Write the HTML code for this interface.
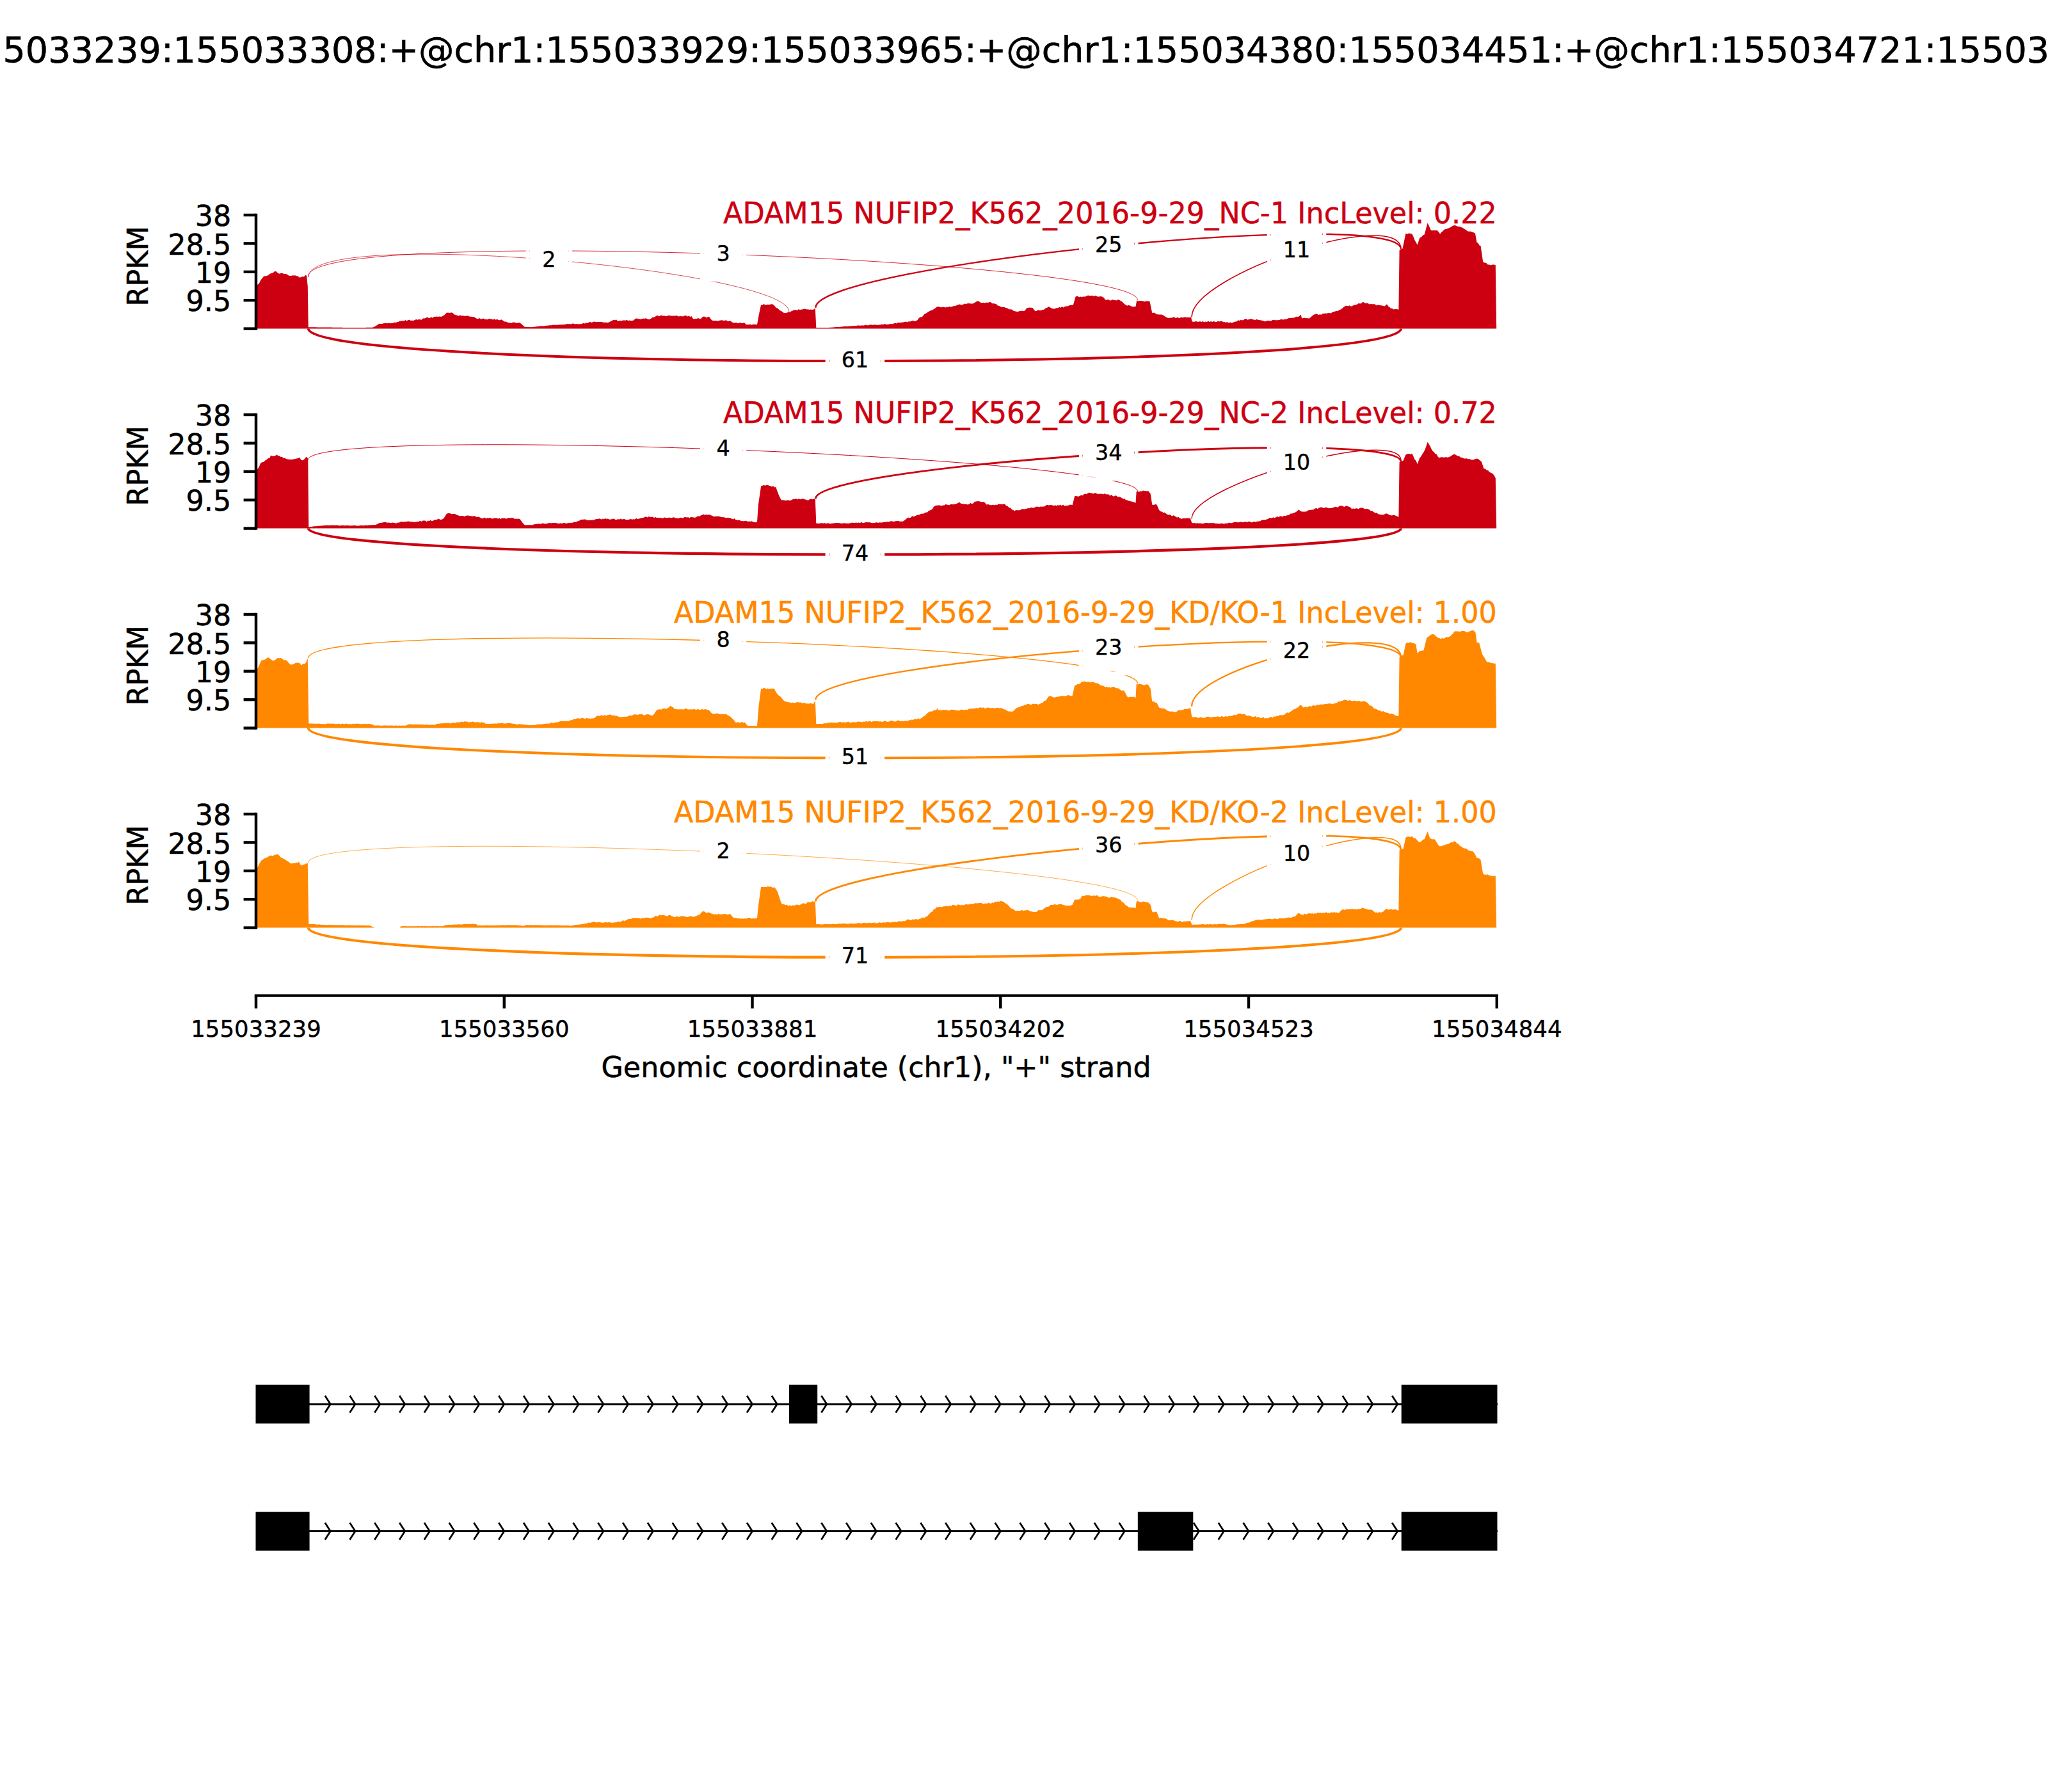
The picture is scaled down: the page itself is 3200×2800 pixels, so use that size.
<!DOCTYPE html>
<html lang="en"><head><meta charset="utf-8"><title>Sashimi plot</title>
<style>html,body{margin:0;padding:0;background:#fff}body{width:3200px;height:2800px;overflow:hidden}svg{display:block}text{font-family:'DejaVu Sans', 'Liberation Sans', sans-serif;fill:#000;stroke:#000;stroke-width:.5px}.t10{stroke-width:.6px}.t6{stroke-width:.4px}</style></head><body>
<svg width="3200" height="2800" viewBox="0 0 3200 2800">
<rect width="3200" height="2800" fill="#fff"/>
<text x="1600" y="97.4" font-size="55.56" class="t10" text-anchor="middle">chr1:155033239:155033308:+@chr1:155033929:155033965:+@chr1:155034380:155034451:+@chr1:155034721:155034844:+</text>
<g transform="translate(0,0)">
<path d="M400,513.6 L400,444.7 L402.7,444.7 L405,442.5 L407.2,438.1 L409.5,435 L411.9,432.1 L414.4,431.3 L416.8,431 L419.3,429.9 L421.7,427.7 L424.1,427 L426.6,426.2 L429.1,424 L431.5,424 L433.9,426.4 L436.4,427.7 L438.8,427.1 L441.3,426.7 L443.8,428.3 L446.2,427.7 L448.6,428.8 L451,430.6 L453,431 L455.1,431.1 L457.1,430.2 L459.1,430.4 L461.2,430.3 L463.2,431.3 L465.6,431.5 L468.1,433.8 L470.6,432.9 L473,432.1 L475,432.6 L477.1,430.1 L479.1,430.6 L480.8,447.2 L481.8,511.2 L483.8,511.2 L485.8,511.2 L487.9,511.3 L489.9,511.2 L491.9,511.3 L493.9,511.3 L495.9,511.4 L498,511.4 L500,511.4 L502,511.4 L504,511.5 L506,511.6 L508.1,511.5 L510.1,511.6 L512.1,511.6 L514.1,511.6 L516.2,511.6 L518.2,511.6 L520.2,511.7 L522.3,511.7 L524.3,511.7 L526.3,511.7 L528.4,511.8 L530.4,511.8 L532.4,511.8 L534.5,511.8 L536.5,511.9 L538.5,511.9 L540.6,511.9 L542.6,511.9 L544.6,511.9 L546.7,511.9 L548.7,512 L550.7,512 L552.8,512 L554.8,512 L556.8,512.1 L558.9,512.1 L560.9,512.1 L562.9,512.1 L564.9,512 L566.9,512 L568.9,511.9 L570.9,511.9 L572.9,511.8 L574.9,511.8 L576.9,511.8 L578.9,511.7 L580.9,511.7 L582.9,511.6 L585.3,510.2 L587.7,509 L590.2,507.2 L592.6,505.8 L594.7,506.1 L596.9,506.1 L599,505.3 L601.2,505 L603.3,505 L605.4,505.3 L607.6,504.8 L609.7,505.3 L611.9,504.9 L614.1,504.9 L616.2,503.8 L618.4,504 L620.6,503.2 L622.8,502.7 L624.9,501.5 L627.1,501.8 L629.3,500.9 L631.4,501.5 L633.5,500 L635.6,501.5 L637.7,500 L639.8,499.7 L641.9,501.1 L644,500.8 L646,500.9 L648.1,500 L650.2,499.1 L652.3,499.7 L654.4,498.9 L656.5,499.3 L658.6,499.7 L661,497.6 L663.5,497.6 L665.9,496.5 L667.9,495.5 L670,497.2 L672,496.5 L674,495.5 L676.1,496.8 L678.1,494.7 L680.1,495 L682.2,494.4 L684.2,495.1 L686.2,494.4 L688.3,494.7 L690.3,494.8 L692.7,493.2 L695.2,491.6 L697.6,488.7 L700,488.5 L702.5,489.1 L704.9,488.2 L707.4,489.1 L709.8,491.4 L712.2,491.9 L714.7,493.1 L716.8,493.6 L719,492.5 L721.1,493.5 L723.2,492.9 L725.4,494.1 L727.5,493.6 L729.7,493.5 L731.8,493.6 L734,494.7 L736.1,494.8 L738.3,494.9 L740.5,495 L742.6,496.6 L744.8,497.8 L747,498.2 L749.1,497 L751.3,498.5 L753.4,498.2 L755.5,497.5 L757.7,499 L759.8,499 L761.9,499.3 L764,498 L766.1,498.2 L768.3,498.7 L770.4,499.4 L772.5,498.3 L774.6,499.7 L776.7,498.8 L778.9,499.9 L781,500.2 L783.1,499.2 L785.5,500.4 L788,502.4 L790.4,502.5 L792.8,503.8 L795,504.2 L797.2,504.6 L799.3,504.7 L801.5,503.4 L803.7,503.8 L805.9,504.2 L808,505 L810.2,504.1 L812.4,504.6 L814.8,506.2 L817.3,508.6 L819.7,510.7 L822.2,510.7 L824.6,511 L827,511.1 L829.5,511.2 L831.5,510.9 L833.6,510.9 L835.6,510.6 L837.6,510.5 L839.7,510.1 L841.7,509.9 L843.7,509.6 L845.8,509.6 L847.8,509.4 L849.8,509.4 L851.9,509 L853.9,508.8 L855.9,508.7 L858,508.3 L860,508.2 L862,508.2 L864.1,507.6 L866.1,507.7 L868.3,507.6 L870.4,507.9 L872.6,507.3 L874.8,507.4 L877,507.2 L879.1,507.3 L881.3,507.1 L883.5,506.9 L885.7,506.1 L887.8,506.3 L890,506.3 L890,506.3 L892.2,506.6 L894.3,505.6 L896.5,505.7 L898.7,506.6 L900.8,506.1 L903,506.6 L905.2,506.3 L907.3,506.5 L909.5,505.8 L911.6,505.1 L913.8,505.4 L915.9,504.4 L918,505.1 L920.2,503.6 L922.3,503.1 L924.5,503.9 L926.6,502.9 L928.6,502.5 L930.7,503.1 L932.7,503.3 L934.7,502.9 L936.8,503 L938.8,503 L940.8,503 L942.9,504 L944.9,503.7 L946.9,503.7 L949,504.3 L951,503.8 L953.5,502.4 L955.9,501.2 L958.3,500.1 L960.8,500.2 L962.9,499.2 L964.9,501.4 L967,501.4 L969.1,500.8 L971.1,501.5 L973.2,500.6 L975.3,500.4 L977.4,500.7 L979.4,499.7 L981.5,501.3 L983.6,500.4 L985.6,501.3 L987.7,500.9 L990.1,500.4 L992.5,498 L994.5,497.4 L996.6,498 L998.6,498.3 L1000.7,498.7 L1002.7,498.4 L1004.8,497.6 L1006.8,498.1 L1008.8,497.3 L1010.9,498 L1012.9,499 L1015,499 L1017,498 L1019.1,496.1 L1021.2,495.9 L1023.4,495 L1025.5,493.6 L1027.6,492.8 L1029.6,494.5 L1031.7,492.9 L1033.8,492.7 L1035.8,493.4 L1037.9,493.3 L1040,493.9 L1042.1,494 L1044.1,492.8 L1046.2,493.1 L1048.2,493.6 L1050.2,493.4 L1052.2,493.4 L1054.2,493.6 L1056.3,493.3 L1058.3,493.2 L1060.3,494.5 L1062.3,494.1 L1064.3,494 L1066.3,494.5 L1068.3,494 L1070.3,492.9 L1072.4,493.3 L1074.4,494.6 L1076.4,493.6 L1078.4,495 L1080.4,494.1 L1082.9,498 L1084.9,498.4 L1087,497.7 L1089,498 L1091,497 L1093.1,497.9 L1095.1,498 L1097.5,495.5 L1099.7,494.6 L1101.9,495 L1104.1,496.4 L1106.3,494.7 L1108.5,495.5 L1112.2,500.4 L1114.3,500.9 L1116.4,500.9 L1118.5,501 L1120.6,501.3 L1122.7,501.6 L1124.8,500.5 L1126.8,500.6 L1128.9,500.3 L1131,501.3 L1133.1,500.5 L1135.2,500.5 L1137.3,502.3 L1139.4,501.6 L1141.5,501.4 L1143.9,503.5 L1146.3,504.6 L1148.4,504.6 L1150.6,504 L1152.7,505.3 L1154.8,504.8 L1157,503.9 L1159.1,505.3 L1161.3,504.5 L1163.4,504.6 L1165.9,507.2 L1168,507.3 L1170.2,507.1 L1172.3,507.1 L1174.5,507.5 L1176.6,506.9 L1178.7,506.7 L1180.9,507 L1183,507.2 L1185.4,493.6 L1189.1,476 L1191.1,477 L1193.2,475.1 L1195.2,476.1 L1197.2,476.6 L1199.3,475.8 L1201.3,475.9 L1203.3,475.7 L1205.4,475.2 L1207.4,475.5 L1209.8,477.2 L1212.3,480.4 L1214.7,481.4 L1217.2,483.7 L1219.6,485.4 L1222,486.8 L1224.5,488.7 L1226.9,489.2 L1229.4,488.7 L1231.8,487.5 L1233.8,488 L1235.9,486.5 L1237.9,485.7 L1239.9,484.7 L1242,484.3 L1244,484.3 L1246,484.8 L1248.1,483 L1250.1,484.4 L1252.1,483.4 L1254.2,483.6 L1256.2,482.6 L1258.3,482.8 L1260.4,483.5 L1262.5,483.3 L1264.6,484 L1266.7,483.5 L1268.8,484.1 L1270.9,483.8 L1273.8,481.4 L1275.3,512.1 L1277.5,512.1 L1279.7,512.1 L1281.9,512.1 L1284,512.1 L1286.2,512.1 L1288.4,512.1 L1290.6,512.1 L1292.8,512.1 L1294.8,512 L1296.9,511.8 L1298.9,511.7 L1301,511.5 L1303,511.4 L1305,511.1 L1307.1,511.1 L1309.1,510.9 L1311.2,510.9 L1313.2,510.7 L1315.2,510.4 L1317.3,510.3 L1319.3,510 L1321.3,510 L1323.4,510.1 L1325.4,509.9 L1327.5,509.4 L1329.5,509.4 L1331.5,509.3 L1333.5,509.2 L1335.5,509.1 L1337.6,509.3 L1339.6,508.6 L1341.6,508.6 L1343.6,508.8 L1345.6,508.4 L1347.7,508.4 L1349.7,508.5 L1351.7,508 L1353.7,507.8 L1355.7,508.5 L1357.7,507.8 L1359.8,507.5 L1361.8,507.3 L1363.8,507.8 L1365.8,507.5 L1367.8,507.3 L1369.8,507.8 L1371.8,507.7 L1373.9,507.4 L1375.9,507.5 L1377.9,506.5 L1379.9,507.4 L1381.9,506.1 L1384,506.7 L1386,507 L1388,506.9 L1390,506.3 L1390,506.3 L1392.2,506.3 L1394.3,506.3 L1396.5,505.6 L1398.7,504.7 L1400.8,505.6 L1403,504.1 L1405.2,504.3 L1407.3,504 L1409.5,503.8 L1411.5,503.5 L1413.5,503 L1415.5,502.5 L1417.5,503.5 L1419.5,502.3 L1421.5,502.6 L1423.5,501.9 L1425.5,501.1 L1427.5,501 L1429.5,502.2 L1431.5,500.9 L1433.6,500.2 L1435.7,497 L1437.8,495.6 L1439.9,495.6 L1442,494 L1444.1,491.1 L1446.2,489.9 L1448.3,488.8 L1450.5,487.3 L1452.6,486.1 L1454.7,485.1 L1456.8,484.4 L1459,483 L1461.1,481.8 L1463.2,480.1 L1465.2,479.1 L1467.3,479.3 L1469.3,480.1 L1471.4,480.2 L1473.4,479.6 L1475.5,480.1 L1477.5,480.4 L1479.5,479.7 L1481.6,479.9 L1483.6,478.7 L1485.7,479.7 L1487.7,478.9 L1490.1,478.2 L1492.6,478.1 L1495,477.1 L1497.4,476 L1499.4,475.4 L1501.4,476.3 L1503.4,476.3 L1505.4,475.5 L1507.4,474.5 L1509.4,474.9 L1511.4,474.3 L1513.4,474.1 L1515.4,474.3 L1517.4,474.6 L1519.4,474.5 L1521.8,473.8 L1524.3,472 L1526.7,470.4 L1529.2,470.5 L1531.6,472.5 L1534,473.2 L1536.5,472.8 L1538.9,473.4 L1541.3,472.4 L1543.8,473.1 L1546.2,472.1 L1548.3,472.2 L1550.4,474.3 L1552.5,473.9 L1554.6,474.7 L1556.7,475.1 L1558.8,477.6 L1560.9,477.7 L1563,479.1 L1565.1,479.8 L1567.2,479.9 L1569.2,479.7 L1571.3,481 L1573.4,481.3 L1575.5,482.6 L1577.5,483.4 L1579.6,483.2 L1581.7,484 L1583.7,485.8 L1585.8,486.3 L1587.8,486.7 L1589.8,487 L1591.9,486.6 L1593.9,486.1 L1595.9,485.7 L1598,485.7 L1600,486.2 L1602,484.6 L1604.1,481.6 L1606.1,480.9 L1608.5,480.6 L1611,480.8 L1613.4,480.9 L1617.1,485.8 L1619.5,486 L1621.9,484.3 L1624.4,485 L1626.8,485 L1628.8,483.8 L1630.9,483.9 L1632.9,482.3 L1634.9,481 L1637,480.5 L1639,478.9 L1641.4,480.7 L1643.9,482 L1646.3,482.6 L1648.5,482.3 L1650.7,481.2 L1652.8,481.4 L1655,479.7 L1657.2,480.7 L1659.4,479 L1661.5,480.4 L1663.7,479 L1665.9,478.4 L1668.1,478.6 L1670.3,477.4 L1672.5,476.6 L1674.7,476.7 L1676.9,476.5 L1680.5,463.8 L1682.5,462.8 L1684.5,463.3 L1686.5,464.2 L1688.5,463.5 L1690.5,464 L1692.5,463.5 L1694.5,463.5 L1696.5,463.3 L1698.5,462 L1700.5,461.5 L1702.5,462.3 L1704.6,462.1 L1706.8,461.7 L1708.9,463 L1711,461.7 L1713.2,462.8 L1715.3,463.6 L1717.5,463.5 L1719.6,463.1 L1722,463.4 L1724.5,464.9 L1727,468.3 L1729.4,468.7 L1731.6,467.7 L1733.7,469.3 L1735.9,469.5 L1738.1,468.1 L1740.2,469 L1742.4,468.9 L1744.6,469.6 L1746.7,468.1 L1748.9,468.7 L1750.9,470.1 L1753,471.2 L1755,473 L1757,475.2 L1759.1,476.2 L1761.1,477.7 L1763.3,476.8 L1765.6,477.6 L1767.8,478.6 L1770,479.5 L1772.3,478.9 L1774.5,478.9 L1776.2,469.2 L1778.2,470.3 L1780.3,470 L1782.3,470.1 L1784.3,470.2 L1786.3,470.4 L1788.4,471.3 L1790.4,470.4 L1792.4,470.6 L1794.5,470.6 L1796.5,471.1 L1800.2,488.7 L1802.3,488.7 L1804.5,488.7 L1806.6,490.9 L1808.7,491.3 L1810.8,491.5 L1813,491.6 L1815.1,491.6 L1817.2,492.4 L1819.7,493.9 L1822.1,495.5 L1824.6,496.7 L1826.7,497 L1828.8,496.4 L1830.9,496.4 L1833,495.8 L1835.1,495.6 L1837.2,497.3 L1839.2,496 L1841.3,496.5 L1843.4,497.3 L1845.5,495.5 L1847.6,496.2 L1849.7,495.9 L1851.8,495.6 L1853.9,496 L1856.3,495.9 L1858.8,496 L1861.2,495.5 L1862.4,502.1 L1864.5,503.1 L1866.6,502.5 L1868.8,501.9 L1870.9,502.8 L1873,502.7 L1875.1,502 L1877.3,503.3 L1879.4,501.7 L1881.5,503.5 L1883.6,502.6 L1885.8,503 L1887.9,501.8 L1890,502.9 L1890,502.9 L1892.2,501.9 L1894.3,502.9 L1896.5,501.8 L1898.7,502.9 L1900.8,502.9 L1903,501.7 L1905.2,502.4 L1907.3,501.7 L1909.5,502.1 L1911.6,503.2 L1913.7,503.3 L1915.8,503.8 L1917.9,503.2 L1920,504.7 L1922.1,503.4 L1924.2,504.6 L1926.3,504 L1928.4,502.9 L1930.5,502.6 L1932.5,502.3 L1934.6,500.2 L1936.7,501 L1938.8,499.7 L1940.9,500.5 L1943.1,500 L1945.2,498.2 L1947.3,498.2 L1949.5,499.7 L1951.6,498.9 L1953.8,498.3 L1955.9,498.5 L1957.9,499.2 L1959.9,499.8 L1961.9,499.7 L1963.9,498.7 L1965.9,500 L1967.9,499.8 L1969.9,500.5 L1971.9,500.8 L1973.9,501.2 L1975.9,502.2 L1977.9,502.1 L1979.9,500.9 L1981.9,500.9 L1983.9,501.1 L1985.9,501.8 L1987.9,500.1 L1989.9,500.3 L1991.9,499.8 L1993.9,500.6 L1995.9,500.3 L1997.9,499.9 L1999.9,499.7 L2002,498.4 L2004.1,499.6 L2006.2,499.2 L2008.3,498.7 L2010.4,498.7 L2012.5,497.4 L2014.6,496.8 L2016.6,497 L2018.7,496.8 L2020.8,496.4 L2022.9,496.3 L2025,494.8 L2027.1,495 L2029.2,494.8 L2032.8,491.6 L2034,497.2 L2036,497.2 L2038.1,496.4 L2040.1,497.2 L2042.1,497.1 L2044.2,497.4 L2046.2,497.2 L2048.7,494.9 L2051.1,493 L2053.6,491.6 L2055.8,490.6 L2057.9,490.4 L2060.1,492.1 L2062.3,491.2 L2064.4,491.7 L2066.6,489.9 L2068.8,489.9 L2070.9,489.6 L2073.1,489.9 L2075.2,488.7 L2077.4,489.3 L2079.5,489.5 L2081.6,488 L2083.8,487.1 L2085.9,486.8 L2088.1,485.7 L2090.2,486.2 L2092.6,484.2 L2095.1,483.4 L2097.6,481.5 L2100,479.4 L2102.1,478 L2104.2,477.7 L2106.3,478.6 L2108.3,477.3 L2110.4,478.4 L2112.5,478.4 L2114.6,477 L2116.7,476.6 L2118.8,476 L2120.9,475.6 L2123,473.8 L2125.1,474.4 L2127.2,473.7 L2129.3,472.1 L2131.4,472.4 L2133.5,474 L2135.6,473.4 L2137.6,474 L2139.7,475.4 L2141.8,475.1 L2143.9,475.3 L2146.1,475.3 L2148.2,475.3 L2150.4,477.3 L2152.6,476.3 L2154.7,476.8 L2156.9,477.1 L2159.1,477.6 L2161.2,477.8 L2163.4,478.4 L2167.1,475.3 L2169.1,478.5 L2171.2,480.1 L2173.2,481.9 L2175.2,481.7 L2177.3,483.5 L2179.3,483.1 L2181.3,483.1 L2183.4,483.2 L2185.4,483.8 L2186.6,391 L2189.1,389.8 L2191.5,388.6 L2196.4,364.7 L2198.8,365.8 L2201.3,364.4 L2203.8,365 L2206.2,365.4 L2208.3,369.6 L2210.4,374.9 L2212.6,379 L2214.7,382.5 L2218.4,371.5 L2220.8,370.5 L2223.3,367.4 L2225.7,366.6 L2230.6,348.3 L2233.1,353.5 L2235.5,359.3 L2237.7,360.5 L2239.9,359.6 L2242,360.3 L2244.2,359.7 L2246.4,360.5 L2250.1,365.4 L2252.1,363 L2254.2,361.2 L2256.2,359.3 L2258.3,357.9 L2260.4,357.7 L2262.5,356.7 L2264.6,356.1 L2266.7,354.9 L2268.8,353.6 L2270.9,352.5 L2273.3,352.1 L2275.8,353.1 L2278.2,354.1 L2280.6,353.9 L2282.7,354.9 L2284.8,355.4 L2286.9,357.1 L2289,358.3 L2291.1,359.8 L2293.2,361.3 L2295.3,361.7 L2297.7,361.5 L2300.2,362.8 L2302.6,363.3 L2305,364.7 L2307.5,378.8 L2309.5,379.8 L2311.6,383.4 L2313.6,384.2 L2317.2,409.3 L2319.6,410.5 L2322.1,410.7 L2324.6,413.5 L2327,413.5 L2329.4,414.5 L2331.9,413.6 L2334.4,413.6 L2336.8,414.2 L2338.2,513.6 L2338.2,513.6 Z" fill="#CC0011"/>
<path d="M481.8,432.9 C481.8,353.6 1233,421.8 1233,487.3" fill="none" stroke="#CC0011" stroke-width="0.70"/>
<path d="M481.8,431.7 C481.8,352.2 1777.5,406.3 1777.5,468.9" fill="none" stroke="#CC0011" stroke-width="0.85"/>
<path d="M1274.3,480.8 C1274.3,413.5 2189,322.1 2189,389.4" fill="none" stroke="#CC0011" stroke-width="2.45"/>
<path d="M1862,495.4 C1862,428.1 2189,322.3 2189,389.6" fill="none" stroke="#CC0011" stroke-width="1.60"/>
<path d="M481.8,513.6 C481.8,580.9 2189,580.9 2189,513.6" fill="none" stroke="#CC0011" stroke-width="3.95"/>
<rect x="827.9" y="372.6" width="60" height="69.7" fill="#fff"/>
<rect x="824.5" y="369.3" width="66.7" height="76.4" fill="none" stroke="#fff" stroke-width="5.6"/>
<text x="857.9" y="416.5" font-size="33.33" class="t6" text-anchor="middle">2</text>
<rect x="1100.2" y="363.9" width="60" height="69.7" fill="#fff"/>
<rect x="1096.8" y="360.5" width="66.7" height="76.4" fill="none" stroke="#fff" stroke-width="5.6"/>
<text x="1130.2" y="407.7" font-size="33.33" class="t6" text-anchor="middle">3</text>
<rect x="1692" y="350.3" width="80.3" height="69.7" fill="#fff"/>
<rect x="1688.7" y="346.9" width="87" height="76.4" fill="none" stroke="#fff" stroke-width="5.6"/>
<text x="1732.2" y="394.1" font-size="33.33" class="t6" text-anchor="middle">25</text>
<rect x="1985.8" y="357.7" width="80.3" height="69.7" fill="#fff"/>
<rect x="1982.5" y="354.3" width="87" height="76.4" fill="none" stroke="#fff" stroke-width="5.6"/>
<text x="2026" y="401.5" font-size="33.33" class="t6" text-anchor="middle">11</text>
<rect x="1295.8" y="529.7" width="80.3" height="69.7" fill="#fff"/>
<rect x="1292.4" y="526.4" width="87" height="76.4" fill="none" stroke="#fff" stroke-width="5.6"/>
<text x="1335.9" y="573.6" font-size="33.33" class="t6" text-anchor="middle">61</text>
<text transform="translate(2338.9,349) scale(1,1.022)" font-size="44.44" text-anchor="end" letter-spacing="0.042" style="fill:#CC0011;stroke:#CC0011">ADAM15 NUFIP2_K562_2016-9-29_NC-1 IncLevel: 0.22</text>
<path d="M400,336 V513.6" stroke="#000" stroke-width="4.44" fill="none" stroke-linecap="square"/>
<path d="M380.6,336 H400" stroke="#000" stroke-width="4.44" fill="none"/>
<text x="361.2" y="353.1" font-size="44.44" text-anchor="end">38</text>
<path d="M380.6,380.4 H400" stroke="#000" stroke-width="4.44" fill="none"/>
<text x="361.2" y="397.5" font-size="44.44" text-anchor="end">28.5</text>
<path d="M380.6,424.8 H400" stroke="#000" stroke-width="4.44" fill="none"/>
<text x="361.2" y="441.9" font-size="44.44" text-anchor="end">19</text>
<path d="M380.6,469.2 H400" stroke="#000" stroke-width="4.44" fill="none"/>
<text x="361.2" y="486.3" font-size="44.44" text-anchor="end">9.5</text>
<path d="M380.6,513.6 H400" stroke="#000" stroke-width="4.44" fill="none"/>
<text transform="translate(231,415.8) rotate(-90)" font-size="44.44" text-anchor="middle">RPKM</text>
</g>
<g transform="translate(0,312)">
<path d="M400,513.6 L400,420.8 L402.7,420.8 L404.9,417.2 L407.1,411.8 L409.5,410.2 L412,409.8 L414.4,407.6 L416.8,406.1 L419.3,403.9 L421.7,403.2 L423,399.6 L426.6,400.8 L428.6,400.5 L430.7,399.7 L432.7,398.4 L434.7,400.2 L436.8,400.2 L438.8,402 L440.8,401.7 L442.9,404 L444.9,403.7 L446.9,404.7 L449,405.4 L451,405.7 L453,406.1 L455.1,406.1 L457.1,405.7 L459.1,405.5 L461.2,405 L463.2,404.5 L465.6,404.1 L468.1,402.8 L470.6,406.9 L473,407.2 L475.4,405.7 L477.6,402.8 L479.8,402 L481.3,405.7 L482.3,511.6 L484.3,511.3 L486.4,511.1 L488.4,510.8 L490.5,510.3 L492.5,510.2 L494.7,510.2 L496.9,509.7 L499,509.7 L501.2,509.5 L503.4,509.5 L505.6,509 L507.7,508.9 L509.9,508.8 L512.1,508.7 L514.1,509 L516.2,508.8 L518.2,508.6 L520.2,508.8 L522.3,508.7 L524.3,508.8 L526.3,508.6 L528.4,508.9 L530.4,509.3 L532.4,509.2 L534.5,508.8 L536.5,509 L538.5,509.2 L540.6,508.9 L542.6,509.1 L544.6,508.9 L546.7,509.4 L548.7,509.3 L550.7,509.2 L552.8,509.1 L554.8,509 L556.8,509.4 L558.9,509.4 L560.9,509.4 L562.9,509.1 L565,508.9 L567,509.1 L569,509.2 L571.1,508.6 L573.1,509 L575.1,508.8 L577.2,508.2 L579.2,508.5 L581.2,508.2 L583.3,507.9 L585.3,508.2 L587.7,507.7 L590.2,506.5 L592.6,505.3 L595,505.1 L597.5,504.5 L600,504.1 L602.4,503.8 L604.5,504.7 L606.6,504.5 L608.7,504.7 L610.8,505.3 L612.9,504.4 L615,504.8 L617.1,505.3 L619.1,505.7 L621.2,504.6 L623.2,504.7 L625.2,503.8 L627.3,502.9 L629.3,503.3 L631.4,503.6 L633.4,503.1 L635.5,503.1 L637.6,502.6 L639.7,502.7 L641.8,503.4 L643.8,502.9 L645.9,503.7 L648,503.7 L650,503.6 L652.1,502.9 L654.2,503.1 L656.3,501.8 L658.3,503 L660.4,501.6 L662.5,501.5 L664.6,501.4 L666.6,503.2 L668.7,501.4 L670.8,502.1 L672.8,500.8 L674.9,502.2 L676.9,501.5 L678.9,500.2 L681,500.1 L683,499.7 L685.4,498.4 L687.9,500.1 L690.3,499.8 L692.7,498.5 L695.2,495.3 L697.6,491.1 L700,489.9 L702.5,489.9 L704.6,490.8 L706.8,491.3 L708.9,491 L711,491.1 L713.2,492.5 L715.3,492.8 L717.5,494.2 L719.6,494.1 L721.8,494 L723.9,494.3 L726.1,495.1 L728.3,493.8 L730.4,493.6 L732.6,493.8 L734.8,494 L736.9,494.4 L739.1,494.8 L741.1,494.1 L743.2,495.2 L745.2,496.1 L747.2,495.6 L749.3,496.2 L751.3,497.2 L753.4,498.3 L755.4,497.4 L757.5,496.5 L759.5,498.4 L761.6,497 L763.6,497.5 L765.7,497.1 L767.8,497.9 L769.8,498.4 L771.9,497.4 L773.9,497.5 L776,497.4 L778.1,498.4 L780.1,497.6 L782.2,499 L784.2,497.4 L786.3,497.7 L788.3,497.5 L790.4,498.5 L792.8,498.1 L795.3,496.7 L797.4,497.8 L799.6,496.7 L801.7,497.2 L803.8,498.7 L806,498.6 L808.1,498.7 L810.3,498.6 L812.4,498.9 L814.8,502.6 L817.3,505.7 L819.7,508.2 L822.2,508.4 L824.6,508.3 L827,508.2 L829.5,508.2 L831.7,508.4 L833.8,507.6 L836,507.1 L838.2,506.8 L840.3,506.5 L842.5,506.2 L844.7,507 L846.8,505.7 L849,505.8 L851,506.4 L853.1,506.3 L855.1,506.1 L857.2,505.3 L859.2,505 L861.3,505.6 L863.4,505 L865.4,505 L867.5,505 L869.5,505.2 L871.5,505.9 L873.6,506.1 L875.6,505.6 L877.7,506 L879.8,505.3 L881.8,505.1 L883.9,505.8 L885.9,505.8 L888,504.9 L890,505.3 L890,505.3 L892.5,504.8 L894.9,504.7 L897.3,503.5 L899.8,503.8 L902.2,502.5 L904.6,502.1 L907.1,500.2 L909.5,499.7 L911.5,499.8 L913.6,499.6 L915.6,499.8 L917.6,501.3 L919.7,500.2 L921.7,500.9 L924.2,500.6 L926.6,500.7 L929,500 L931.5,498.9 L933.5,498.9 L935.5,498.4 L937.5,498.2 L939.5,499.8 L941.5,498.5 L943.5,499.3 L945.5,498.1 L947.6,498.7 L949.6,498.5 L951.6,499.6 L953.6,499.8 L955.6,499.3 L957.6,498.4 L959.6,498.7 L961.6,500.1 L963.6,500 L965.6,499.1 L967.6,499.8 L969.6,498.4 L971.6,499.6 L973.7,499.3 L975.7,499.1 L977.7,499.9 L979.7,499.9 L981.7,500 L983.7,499.4 L985.7,498.9 L987.7,499.7 L989.9,499.3 L992,499.5 L994.2,497.7 L996.4,499 L998.5,498.4 L1000.7,497.8 L1002.9,497.2 L1005,497.1 L1007.2,496 L1009.3,495.3 L1011.5,496.5 L1013.6,495.1 L1015.8,495.8 L1017.9,495.7 L1020,495.7 L1022.2,497.1 L1024.3,496 L1026.3,497.2 L1028.4,496.7 L1030.4,497.5 L1032.4,496.7 L1034.5,497.9 L1036.5,497.2 L1038.5,496.6 L1040.6,496.9 L1042.6,497.2 L1044.6,496.7 L1046.7,496.7 L1048.7,497.4 L1050.7,496.8 L1052.8,496.2 L1054.8,497.3 L1056.8,497.5 L1058.9,497.8 L1060.9,497.8 L1062.9,496.8 L1065,497 L1067,497.7 L1069,496.2 L1071.1,495.8 L1073.1,496.7 L1075.1,496 L1077.2,497.4 L1079.2,495.7 L1081.2,495.9 L1083.3,496.5 L1085.3,496.7 L1087.3,496.4 L1089.4,494.8 L1091.4,494.6 L1093.4,494.8 L1095.5,493 L1097.5,492.4 L1099.5,491.4 L1101.6,493 L1103.6,491.7 L1105.6,492.6 L1107.7,492.1 L1109.7,492.4 L1112.2,493.8 L1114.6,494.8 L1116.7,495.3 L1118.7,494.6 L1120.8,495.1 L1122.9,494.6 L1124.9,495.2 L1127,495.7 L1129.1,496.3 L1131.2,496.2 L1133.2,496.8 L1135.3,497.4 L1137.4,496.5 L1139.4,497.4 L1141.5,497.2 L1143.5,498.7 L1145.6,499.5 L1147.6,498.1 L1149.6,500.2 L1151.7,500.2 L1153.7,500.9 L1155.8,500.4 L1157.9,502.3 L1160,501.8 L1162,502.5 L1164.1,501.7 L1166.2,502 L1168.3,502.9 L1170.4,502.5 L1172.5,502.9 L1174.6,502.2 L1176.7,503.4 L1178.8,504.1 L1180.9,504.2 L1183,503.3 L1184.9,476.5 L1189.1,447.7 L1191.3,446.8 L1193.5,445.9 L1195.7,446.8 L1197.9,445.8 L1200.1,446 L1202.1,446.9 L1204.2,447.5 L1206.2,448.4 L1208.2,447.6 L1210.3,449.4 L1212.3,449.1 L1214.4,454.9 L1216.5,460.4 L1218.7,465.5 L1220.8,469.6 L1223,469.2 L1225.2,469.7 L1227.4,469.9 L1229.6,469.8 L1231.8,469.6 L1234.2,470.2 L1236.7,469.2 L1239.1,468.1 L1241.6,467.9 L1243.7,467.1 L1245.8,468.5 L1247.9,467 L1249.9,468.3 L1252,468.1 L1254.1,466.9 L1256.2,467.9 L1258.7,468.5 L1261.1,469.6 L1263.2,469.5 L1265.3,468 L1267.4,467.5 L1269.6,468.3 L1271.7,467.4 L1273.8,467.2 L1275.3,505.8 L1277.5,505.8 L1279.7,506.1 L1281.9,505.4 L1284,505.2 L1286.2,505.7 L1288.4,505.2 L1290.6,505.9 L1292.8,505.8 L1294.8,505.3 L1296.9,506.4 L1298.9,505.9 L1301,505.7 L1303,505.6 L1305,505.3 L1307.1,505 L1309.1,505 L1311.2,505.2 L1313.2,505.7 L1315.2,505.8 L1317.3,505.7 L1319.3,505.2 L1321.3,505.8 L1323.4,505.8 L1325.4,506 L1327.5,505.4 L1329.5,505.3 L1331.5,504.6 L1333.6,505.1 L1335.6,505 L1337.6,504.5 L1339.7,505 L1341.7,504.6 L1343.7,505.3 L1345.8,503.8 L1347.8,504.9 L1349.8,505.1 L1351.9,504.3 L1353.9,504.1 L1355.9,504.2 L1358,504 L1360,504.6 L1362,505 L1364.1,505.2 L1366.1,504.9 L1368.1,504.6 L1370.2,504.2 L1372.2,505 L1374.2,504.3 L1376.3,504.6 L1378.3,504.6 L1380.6,504.1 L1383,503.7 L1385.3,503.2 L1387.7,503.4 L1390,502.9 L1390,502.9 L1392,502.2 L1394,502.6 L1396,502.9 L1398,502.8 L1400,502 L1402,502.2 L1404,501.7 L1406,503.1 L1408,502.5 L1410,503.1 L1412,502.1 L1414.5,500.1 L1416.9,498 L1419,496.5 L1421.1,497.4 L1423.2,496.6 L1425.2,494.4 L1427.3,495 L1429.4,494.8 L1431.5,493.6 L1433.6,492.6 L1435.8,492.5 L1437.9,491.4 L1440,490.5 L1442.2,490.8 L1444.3,490 L1446.5,488.4 L1448.6,488.7 L1450.7,486.5 L1452.8,485.5 L1454.9,484.8 L1456.9,483.3 L1459,479.8 L1461.1,478.2 L1463.2,477.7 L1465.2,477.7 L1467.3,477.3 L1469.3,477.9 L1471.4,478.2 L1473.4,477.5 L1475.5,477.4 L1477.5,476.1 L1479.5,476.5 L1481.6,476.9 L1483.6,477.3 L1485.7,475.8 L1487.7,476 L1490.1,476.3 L1492.6,475.6 L1495,474.9 L1497.4,473.6 L1499.5,473.1 L1501.6,474.9 L1503.7,475 L1505.8,475.4 L1507.9,475.8 L1510,475.8 L1512.1,476.5 L1514.2,475.8 L1516.4,474.1 L1518.5,475.3 L1520.7,474.6 L1522.8,472.1 L1524.9,471.5 L1527.1,471.2 L1529.2,471.1 L1531.6,471.8 L1534.1,472.6 L1536.5,472.1 L1539,473.5 L1541.4,476.5 L1543.5,476.1 L1545.6,476.6 L1547.7,477.3 L1549.7,477.3 L1551.8,476.4 L1553.9,477.6 L1556,476.5 L1558,477.2 L1560.1,475 L1562.1,476.3 L1564.1,475.5 L1566.2,476.3 L1568.2,475.3 L1570.3,476 L1572.5,478.5 L1574.6,479 L1576.8,481.3 L1578.9,481.5 L1581,484.2 L1583.2,484.9 L1585.3,486.2 L1587.5,485 L1589.6,485.3 L1591.8,485.2 L1594,485.3 L1596.1,483.6 L1598.3,483.4 L1600.5,483.4 L1602.6,483.2 L1604.8,482.6 L1606.8,481.9 L1608.9,482.3 L1610.9,480.7 L1613,481.4 L1615,481.4 L1617,480.7 L1619.1,479.8 L1621.1,479.4 L1623.2,480.6 L1625.2,479.5 L1627.3,479.8 L1629.3,479.4 L1631.7,479.4 L1634.1,477.7 L1636.2,476.7 L1638.2,477.5 L1640.3,477.3 L1642.4,477.1 L1644.5,477.6 L1646.5,478.2 L1648.6,477.2 L1650.7,478.4 L1652.8,477 L1654.8,478.1 L1656.9,476.5 L1659,478.3 L1661.1,476.5 L1663.1,478.4 L1665.2,478.3 L1667.3,477.9 L1669.4,477.8 L1671.4,476.8 L1673.5,476.5 L1675.6,477.2 L1679.3,463.1 L1681.3,463 L1683.4,463.5 L1685.4,463.8 L1687.5,462.6 L1689.6,461.7 L1691.7,462.2 L1693.8,460 L1695.9,459.4 L1698,459.9 L1700.1,458.2 L1702.3,457.8 L1704.5,458.6 L1706.7,458.8 L1708.9,459.6 L1711,458 L1713.2,458.9 L1715.4,459.9 L1717.6,459.4 L1719.8,459.7 L1722,459.4 L1724.1,460.4 L1726.1,459.1 L1728.2,460.6 L1730.3,460.2 L1732.3,460.6 L1734.4,462.7 L1736.5,461 L1738.6,463.1 L1740.6,463.8 L1742.7,462.2 L1744.8,462.8 L1746.8,464.8 L1748.9,464.3 L1750.9,464.9 L1753,466 L1755,467.8 L1757,467 L1759.1,469.3 L1761.1,469.6 L1763.3,470.4 L1765.6,471 L1767.8,471.6 L1770,472 L1772.3,472.7 L1774.5,474 L1775.7,455.7 L1777.7,456.1 L1779.8,456.3 L1781.8,455.6 L1783.9,455.7 L1785.9,454.6 L1788,455 L1790,454.9 L1792.1,455.4 L1794.1,455 L1797.7,459.4 L1800.2,476.5 L1802.6,476.9 L1805.1,476 L1807.5,476.5 L1811.1,485 L1813.2,486.9 L1815.4,487.4 L1817.5,488.9 L1819.7,488.7 L1823.3,491.6 L1825.3,492.5 L1827.4,492 L1829.4,492.9 L1831.5,494.4 L1833.5,493.2 L1835.6,494.1 L1837.6,496 L1839.7,496.5 L1841.7,496 L1844.1,498 L1846.4,498.7 L1848.6,497.8 L1850.9,498 L1853.2,497.8 L1855.5,497.6 L1857.7,497.7 L1860,498 L1862.4,505.3 L1864.5,505.2 L1866.6,504.9 L1868.8,506 L1870.9,505.3 L1873,505.8 L1875.1,505.6 L1877.3,506 L1879.4,506 L1881.5,505.8 L1883.6,505 L1885.8,504.9 L1887.9,505.6 L1890,505.3 L1890,505.3 L1892.1,505.2 L1894.3,505.3 L1896.4,505 L1898.5,505.9 L1900.7,506 L1902.8,506.2 L1905,506.3 L1907.1,506.3 L1909.3,505.5 L1911.4,506.6 L1913.6,506.3 L1915.8,505.5 L1917.9,505.9 L1920.1,504.5 L1922.3,505.2 L1924.4,505.3 L1926.6,504.6 L1928.6,503.8 L1930.7,503.7 L1932.7,504.1 L1934.7,504.2 L1936.8,504 L1938.8,503.6 L1940.8,503.8 L1942.9,504.3 L1944.9,503.1 L1946.9,503.4 L1949,504 L1951,502.8 L1953,502.9 L1955.1,504.2 L1957.1,503.9 L1959.1,502.8 L1961.2,503.7 L1963.2,502.9 L1965.2,502.7 L1967.3,502.5 L1969.3,502.2 L1971.4,500.6 L1973.4,500.5 L1975.5,500.1 L1977.5,500.3 L1979.5,499.2 L1981.6,498.8 L1983.6,497.1 L1985.7,497.5 L1987.7,497.2 L1989.7,496.3 L1991.8,497.4 L1993.8,496 L1995.8,495 L1997.9,496 L1999.9,494.5 L2001.9,494.6 L2004,495.5 L2006,493.8 L2008,494.2 L2010.1,493.4 L2012.1,493.1 L2014.3,492.6 L2016.5,490.6 L2018.7,490.6 L2020.9,489.8 L2023.1,488.7 L2025.1,488 L2027.2,486.2 L2029.2,484.3 L2031.6,486.3 L2034.1,487.4 L2036.5,487.5 L2038.9,487.5 L2041.3,487.3 L2043.8,485.5 L2046.2,485 L2048.3,484.7 L2050.4,484.6 L2052.5,484.3 L2054.6,482.6 L2056.7,482.1 L2058.8,482.9 L2060.9,481.4 L2063.1,480.8 L2065.2,480.6 L2067.4,481.8 L2069.6,481.5 L2071.7,480.8 L2073.9,481.2 L2076.1,482.3 L2078.2,481.8 L2080.4,481.9 L2082.5,481.2 L2084.6,480.5 L2086.7,479.7 L2088.8,480.5 L2090.9,480.4 L2093,478.2 L2095.1,478.4 L2097.1,478.2 L2099.2,479.5 L2101.2,480 L2103.2,478 L2105.3,479.1 L2107.3,479.4 L2109.8,480.5 L2112.2,483.3 L2114.3,482.5 L2116.5,482.9 L2118.6,482.2 L2120.8,482.4 L2122.9,483.2 L2125,481.6 L2127.2,481.6 L2129.3,481.4 L2131.4,482.8 L2133.5,483.4 L2135.6,482.7 L2137.6,483.5 L2139.7,484.4 L2141.8,486.3 L2143.9,486.2 L2146.3,488 L2148.8,489.6 L2151.2,489.3 L2153.7,491.6 L2155.8,491.7 L2157.9,492.2 L2160,492.2 L2162,492.3 L2164.1,491 L2166.2,490.3 L2168.3,491.1 L2170.4,492.5 L2172.6,492.9 L2174.7,493.5 L2176.9,492.8 L2179,493.1 L2181.1,494 L2183.3,494.8 L2185.4,496 L2186.6,410.6 L2188.6,409.1 L2190.7,408.8 L2192.7,407.6 L2196.4,398.4 L2198.8,397.4 L2201.3,396.8 L2203.8,397.9 L2206.2,396.4 L2208.3,400.7 L2210.4,405.8 L2212.6,408.1 L2214.7,413 L2218.4,403.2 L2220.5,400.9 L2222.7,397 L2224.8,393.9 L2226.9,389.8 L2230.6,378.8 L2232.6,381.7 L2234.7,385.6 L2236.7,389.8 L2238.7,393 L2240.8,394.5 L2242.8,397.4 L2244.8,397.8 L2246.9,402 L2248.9,403.2 L2251,402.4 L2253.2,402.3 L2255.3,402.7 L2257.4,402.5 L2259.6,402.3 L2261.7,402.8 L2263.9,402.2 L2266,401.3 L2268.4,399.7 L2270.9,397.9 L2273,397.7 L2275.1,398.9 L2277.2,400.4 L2279.2,400.2 L2281.3,402.1 L2283.4,403.1 L2285.5,403.2 L2287.6,404.5 L2289.8,404.4 L2291.9,404.3 L2294.1,405.4 L2296.2,404.8 L2298.3,406.3 L2300.5,406.4 L2302.6,406.2 L2305,405.2 L2307.5,404.6 L2309.9,405.2 L2312.4,407.4 L2314.8,409.3 L2318.5,420.3 L2320.7,420.4 L2323,422.8 L2325.2,423 L2327.4,425.8 L2329.7,426.8 L2331.9,427.7 L2334.4,430.6 L2336.8,435 L2338.2,513.6 L2338.2,513.6 Z" fill="#CC0011"/>
<path d="M481.8,406.4 C481.8,352 1777.5,401.3 1777.5,455.7" fill="none" stroke="#CC0011" stroke-width="1.00"/>
<path d="M1274.3,467.2 C1274.3,412.8 2189,355 2189,409.4" fill="none" stroke="#CC0011" stroke-width="2.80"/>
<path d="M1862,498.5 C1862,444.1 2189,353.6 2189,408" fill="none" stroke="#CC0011" stroke-width="1.50"/>
<path d="M481.8,513.6 C481.8,568 2189,568 2189,513.6" fill="none" stroke="#CC0011" stroke-width="4.20"/>
<rect x="1100.2" y="355.9" width="60" height="69.7" fill="#fff"/>
<rect x="1096.8" y="352.5" width="66.7" height="76.4" fill="none" stroke="#fff" stroke-width="5.6"/>
<text x="1130.2" y="399.7" font-size="33.33" class="t6" text-anchor="middle">4</text>
<rect x="1692" y="363.1" width="80.3" height="69.7" fill="#fff"/>
<rect x="1688.7" y="359.8" width="87" height="76.4" fill="none" stroke="#fff" stroke-width="5.6"/>
<text x="1732.2" y="407" font-size="33.33" class="t6" text-anchor="middle">34</text>
<rect x="1985.8" y="378.1" width="80.3" height="69.7" fill="#fff"/>
<rect x="1982.5" y="374.8" width="87" height="76.4" fill="none" stroke="#fff" stroke-width="5.6"/>
<text x="2026" y="421.9" font-size="33.33" class="t6" text-anchor="middle">10</text>
<rect x="1295.8" y="520" width="80.3" height="69.7" fill="#fff"/>
<rect x="1292.4" y="516.7" width="87" height="76.4" fill="none" stroke="#fff" stroke-width="5.6"/>
<text x="1335.9" y="563.9" font-size="33.33" class="t6" text-anchor="middle">74</text>
<text transform="translate(2338.9,349) scale(1,1.022)" font-size="44.44" text-anchor="end" letter-spacing="0.042" style="fill:#CC0011;stroke:#CC0011">ADAM15 NUFIP2_K562_2016-9-29_NC-2 IncLevel: 0.72</text>
<path d="M400,336 V513.6" stroke="#000" stroke-width="4.44" fill="none" stroke-linecap="square"/>
<path d="M380.6,336 H400" stroke="#000" stroke-width="4.44" fill="none"/>
<text x="361.2" y="353.1" font-size="44.44" text-anchor="end">38</text>
<path d="M380.6,380.4 H400" stroke="#000" stroke-width="4.44" fill="none"/>
<text x="361.2" y="397.5" font-size="44.44" text-anchor="end">28.5</text>
<path d="M380.6,424.8 H400" stroke="#000" stroke-width="4.44" fill="none"/>
<text x="361.2" y="441.9" font-size="44.44" text-anchor="end">19</text>
<path d="M380.6,469.2 H400" stroke="#000" stroke-width="4.44" fill="none"/>
<text x="361.2" y="486.3" font-size="44.44" text-anchor="end">9.5</text>
<path d="M380.6,513.6 H400" stroke="#000" stroke-width="4.44" fill="none"/>
<text transform="translate(231,415.8) rotate(-90)" font-size="44.44" text-anchor="middle">RPKM</text>
</g>
<g transform="translate(0,624)">
<path d="M400,513.6 L400,420.3 L402.7,420.3 L405.5,414.3 L408.3,408.1 L410.5,407.6 L412.7,406.8 L414.9,406.2 L417.1,404.1 L419.3,403.2 L421.7,405 L424.2,406.9 L426.6,408.6 L429,407.7 L431.5,406 L433.9,403.7 L436,404.6 L438.1,404 L440.2,404.8 L442.3,406.4 L444.4,407.8 L446.5,407.2 L448.6,408.6 L451.1,411.8 L453.5,414.2 L455.6,414.4 L457.7,414.1 L459.8,413 L461.8,411.7 L463.9,411.4 L466,411.7 L468.1,411.8 L470.6,415.4 L473,413.6 L475.5,413.4 L477.9,411.8 L480.8,404.5 L482.3,506.3 L484.4,506.7 L486.5,506.5 L488.6,506.8 L490.8,506.4 L492.9,506.9 L495,506.8 L497,506.7 L499,506.6 L501.1,507.2 L503.1,507.1 L505.1,507.4 L507.1,506.9 L509.2,507.4 L511.2,506.4 L513.2,506.5 L515.2,506.8 L517.3,506.8 L519.3,506.4 L521.3,506.7 L523.3,507.3 L525.4,507.1 L527.4,507.2 L529.4,506.6 L531.4,507.4 L533.5,507.2 L535.5,506.5 L537.5,507.5 L539.5,507.1 L541.6,506.5 L543.6,507.5 L545.6,507.2 L547.6,507.5 L549.7,507.4 L551.7,506.7 L553.7,507.3 L555.7,506.7 L557.8,506.7 L559.8,506.7 L561.8,507.1 L563.8,507.4 L565.9,507 L567.9,507.4 L569.9,506.7 L571.9,507.3 L574,507.2 L576,506.7 L578,507.2 L580.4,507.7 L582.9,508.6 L585.3,509.7 L587.3,509.6 L589.4,509.5 L591.4,509.6 L593.4,509.5 L595.5,509.9 L597.5,509.7 L599.5,509.6 L601.6,509.5 L603.6,509.5 L605.6,509.8 L607.7,509.6 L609.7,509.8 L611.7,509.4 L613.8,509.7 L615.8,509.9 L617.8,509.5 L619.9,509.8 L621.9,510 L623.9,509.5 L626,509.9 L628,509.6 L630,509.8 L632.1,509.8 L634.1,509.7 L636.5,508.6 L639,507.7 L641.1,507.4 L643.1,508.1 L645.2,508 L647.2,507.9 L649.3,508 L651.3,507.9 L653.4,507.7 L655.5,508.3 L657.5,507.9 L659.6,508 L661.6,508.2 L663.7,508.5 L665.8,508.2 L667.8,508.2 L669.9,508.4 L671.9,508.7 L674,508.6 L676,508.3 L678.1,508.7 L680.5,508 L683,507 L685.1,506.7 L687.2,506.4 L689.3,506.3 L691.4,506.3 L693.5,505.9 L695.6,505.8 L697.6,506.3 L699.7,505.5 L701.8,505.8 L703.9,506.4 L706,505.7 L708.1,505.1 L710.2,505.7 L712.3,505.3 L714.7,504.2 L717.1,505.1 L719.6,504.1 L722,503.8 L724,504.5 L726,503.1 L728,503.8 L730,503.3 L732.1,504.9 L734.1,504 L736.1,504.4 L738.1,503.6 L740.1,503.7 L742.1,504.8 L744.1,504.5 L746.1,504.3 L748.2,504.5 L750.2,505.4 L752.2,504.1 L754.2,505.3 L756.2,504.8 L758.7,506.8 L760.7,507 L762.8,507 L764.8,507.1 L766.8,506.9 L768.9,506.4 L770.9,507 L772.9,506.2 L775,506.7 L777,506.8 L779,505.7 L781.1,506.5 L783.1,505.8 L785.1,505.7 L787.2,506.6 L789.2,506.4 L791.2,506.2 L793.3,506.1 L795.3,505.8 L797.7,506 L800.1,506.8 L802.6,506.8 L805,507.2 L807.1,507.9 L809.1,508 L811.2,507.3 L813.3,507.8 L815.3,507.7 L817.4,508.1 L819.5,508.5 L821.6,508.4 L823.6,508.7 L825.7,508.9 L827.8,509.2 L829.8,508.8 L831.9,509.2 L833.9,509 L835.9,508.9 L837.9,508.2 L839.9,508 L841.9,507.7 L843.9,507.5 L845.9,508 L847.9,507.3 L849.9,507.3 L851.9,506.7 L853.9,506.8 L856.1,506.5 L858.2,506.8 L860.4,505.3 L862.6,505.2 L864.7,505.9 L866.9,505.3 L869.1,504.5 L871.2,504.8 L873.4,503.8 L875.5,503.1 L877.5,502.5 L879.6,502.8 L881.7,502.5 L883.8,502.7 L885.9,502.5 L887.9,502.7 L890,502.4 L890,500.9 L892,501.4 L894.1,501 L896.1,499.7 L898.1,499.5 L900.2,499.2 L902.2,498 L904.2,498.8 L906.3,498.7 L908.3,498.3 L910.3,497.7 L912.4,498.6 L914.4,499.1 L916.4,498 L918.5,498.6 L920.5,498.5 L922.5,499.1 L924.6,498.5 L926.6,498.5 L929,498 L931.5,495.5 L933.9,494.1 L936,495 L938.2,494.1 L940.3,493.3 L942.5,494.7 L944.6,492.7 L946.7,494.4 L948.9,493.3 L951,493.1 L953.1,492.4 L955.3,493.2 L957.4,493.9 L959.5,493.7 L961.7,494.4 L963.8,494.6 L966,495.7 L968.1,496 L970.3,496.5 L972.5,496.2 L974.6,496 L976.8,495.7 L979,495.9 L981.2,495.3 L983.3,493.9 L985.5,493.9 L987.7,494.1 L990.1,492.2 L992.5,492.4 L994.6,492.2 L996.8,493.2 L998.9,491.7 L1001,492.3 L1003.2,491.4 L1005.3,493.4 L1007.5,493.5 L1009.6,492.4 L1012,491.9 L1014.5,492.4 L1017,493.8 L1019.4,494.1 L1021.8,492.1 L1024.3,488.1 L1026.7,485 L1028.8,484.8 L1030.9,484.1 L1033,485.1 L1035.1,483.2 L1037.2,483.2 L1039.3,483 L1041.4,483.8 L1043.4,482.3 L1045.5,480.9 L1047.5,478.4 L1049.5,480.3 L1051.6,481 L1053.6,483.3 L1055.7,484.3 L1057.7,484.1 L1059.8,484.4 L1061.9,484.2 L1063.9,484.2 L1066,484.2 L1068.1,484.7 L1070.1,483.4 L1072.2,483 L1074.3,484.3 L1076.3,484.6 L1078.4,484.4 L1080.4,484.2 L1082.5,484.5 L1084.6,483.8 L1086.6,484.8 L1088.7,484.7 L1090.8,483.7 L1092.8,485.3 L1094.9,484.9 L1097,483.6 L1099,485 L1101.1,484.3 L1103.2,484.1 L1105.2,485.6 L1107.3,485 L1109.8,488 L1112.2,490.6 L1114.4,491.4 L1116.6,491.3 L1118.8,490.9 L1121,490.3 L1123.2,491.9 L1125.3,491.6 L1127.5,492.3 L1129.7,491.5 L1131.9,492.3 L1134.1,491.6 L1136.6,493.2 L1139,494.6 L1141.5,496 L1143.9,498.5 L1146.4,500.8 L1148.8,504.6 L1150.9,505.2 L1153,504.1 L1155.1,505.4 L1157.1,504.7 L1159.2,504 L1161.3,505.3 L1163.4,504.6 L1165.8,507.3 L1168.3,510.2 L1170.4,510.1 L1172.5,510 L1174.6,510 L1176.7,510.3 L1178.8,510.1 L1180.9,510.2 L1183,510.2 L1185.4,480.1 L1189.1,452.1 L1191.2,452.6 L1193.2,451.1 L1195.3,451.3 L1197.4,452.8 L1199.4,451.4 L1201.5,452.7 L1203.6,451.9 L1205.7,452 L1207.7,451.7 L1209.8,452.1 L1212.2,457.1 L1214.7,460.6 L1217.2,462.9 L1219.6,464.5 L1222,467.6 L1224.5,470.4 L1226.5,472 L1228.6,472.4 L1230.6,472.8 L1232.6,473.4 L1234.7,473.6 L1236.7,474.5 L1238.8,473.5 L1240.9,474.5 L1243,473.8 L1245,473.6 L1247.1,472.9 L1249.2,473.8 L1251.3,473.6 L1253.5,474.5 L1255.7,474.6 L1257.8,474 L1260,475.7 L1262.2,475.1 L1264.4,475.7 L1266.5,474.5 L1268.7,475.5 L1270.9,476 L1273.8,470.4 L1275.3,507 L1277.3,506.9 L1279.4,506.9 L1281.4,507.1 L1283.5,507 L1285.5,507 L1288,506 L1290.4,506.6 L1292.8,505.6 L1295.3,505.3 L1297.3,505.3 L1299.3,504.7 L1301.4,505.2 L1303.4,505.1 L1305.4,505.4 L1307.4,505.3 L1309.4,504.7 L1311.4,504.2 L1313.5,504.1 L1315.5,505.2 L1317.5,504.1 L1319.5,505 L1321.5,504.8 L1323.5,504.5 L1325.6,503.5 L1327.6,504.9 L1329.6,505 L1331.6,504.4 L1333.6,504.6 L1335.6,504.3 L1337.7,504.7 L1339.7,503.5 L1341.7,503.8 L1343.7,503.7 L1345.7,504.1 L1347.7,504.5 L1349.8,503.2 L1351.8,504 L1353.8,502.7 L1355.8,503.7 L1357.8,502.8 L1359.8,502.8 L1361.8,504.3 L1363.8,503.1 L1365.8,503.1 L1367.9,502.8 L1369.9,503.1 L1371.9,502.9 L1373.9,503.6 L1375.9,502.9 L1377.9,503.9 L1379.9,503.4 L1382,502.5 L1384,502.3 L1386,503.9 L1388,503.7 L1390,502.9 L1390,502.9 L1392,501.9 L1394.1,501.8 L1396.1,503 L1398.1,503.6 L1400.2,502.9 L1402.2,501.7 L1404.2,501.4 L1406.3,503 L1408.3,502.5 L1410.3,502.9 L1412.4,502.9 L1414.4,502.1 L1416.4,502.2 L1418.5,502.6 L1420.5,501 L1422.5,501.5 L1424.6,500.3 L1426.6,501 L1428.6,499.4 L1430.7,499.6 L1432.7,500.1 L1434.7,498.2 L1436.8,499.7 L1438.8,498.5 L1440.9,497.4 L1443,495.2 L1445.1,494.8 L1447.2,491.9 L1449.3,490.3 L1451.4,488.6 L1453.5,487.5 L1455.9,487.7 L1458.3,486.3 L1460.8,485.8 L1463.2,485 L1464.5,481.9 L1465.7,485.8 L1467.7,485.1 L1469.7,485.7 L1471.7,486.1 L1473.7,485.1 L1475.8,484.9 L1477.8,485.6 L1479.8,485.2 L1481.8,486.3 L1483.8,486.2 L1485.8,484.7 L1487.8,485 L1489.8,484.8 L1491.9,485.4 L1493.9,485.8 L1495.9,486 L1497.9,486.4 L1499.9,485.8 L1502,484.4 L1504,484.9 L1506.1,485.6 L1508.1,484.9 L1510.2,484.9 L1512.3,484.9 L1514.3,482.9 L1516.4,483.8 L1518.5,483 L1520.5,483.5 L1522.6,482.7 L1524.6,482.8 L1526.7,481.9 L1528.8,482.9 L1530.8,481.2 L1532.9,481.4 L1534.9,481.9 L1537,481.3 L1539,483.1 L1541.1,482.4 L1543.2,481.2 L1545.2,482 L1547.3,482.3 L1549.3,482.4 L1551.4,481.8 L1553.5,483 L1555.5,482.6 L1557.6,481.7 L1559.6,481.9 L1561.7,482.6 L1563.7,482.3 L1565.8,482.6 L1568.2,484.2 L1570.7,484.4 L1573.1,486.6 L1575.5,487.5 L1578,487.4 L1580.4,487.9 L1582.9,487.5 L1585.3,485.2 L1587.8,482.6 L1590.2,481.4 L1592.3,481 L1594.4,479.9 L1596.5,478.8 L1598.5,479.1 L1600.6,477.5 L1602.7,477.4 L1604.8,476 L1607,475.8 L1609.2,476.8 L1611.3,476.9 L1613.5,475.7 L1615.7,475.8 L1617.9,475.9 L1620,476.1 L1622.2,477 L1624.4,476 L1626.8,474.7 L1629.2,473.9 L1631.7,471 L1634.1,470.4 L1636.5,467 L1639,463.8 L1641.5,463.8 L1643.9,464.6 L1646.3,465.7 L1648.8,465.5 L1651.2,464.8 L1653.7,464.5 L1656.1,464.2 L1658.6,463.1 L1660.7,463.5 L1662.8,464.1 L1665,463.5 L1667.1,462.7 L1669.2,462.1 L1671.3,462.7 L1673.5,463.5 L1675.6,463.1 L1679.3,446.7 L1681.3,447.1 L1683.4,444.8 L1685.4,445.2 L1687.8,444 L1690.3,441.1 L1692.4,441.6 L1694.6,440.2 L1696.7,441.8 L1698.8,441.2 L1701,441 L1703.1,442.4 L1705.3,441.7 L1707.4,441.8 L1709.8,442.2 L1712.2,443.4 L1714.7,443.4 L1717.1,444.7 L1719.5,446.7 L1722,447.2 L1724.5,447.9 L1726.9,449.6 L1729,449.3 L1731.1,450.2 L1733.2,449.4 L1735.3,450.7 L1737.4,449.5 L1739.5,449.1 L1741.6,450.1 L1743.7,451 L1745.8,451.6 L1747.9,451.5 L1749.9,453.6 L1752,454.7 L1754.1,454.9 L1756.2,455 L1758.7,459.2 L1761.1,464.3 L1763.3,465.6 L1765.6,464.6 L1767.8,465.2 L1770,464.6 L1772.3,465 L1774.5,466.2 L1775.7,444.7 L1778.2,445.5 L1780.6,444.5 L1783,445.1 L1785.5,446 L1787.7,446.8 L1789.8,445.8 L1791.9,445.2 L1794.1,446 L1797.7,452.1 L1800.2,472.1 L1802.6,472.1 L1805.1,473.8 L1807.5,474 L1811.1,481.4 L1813.2,482.3 L1815.4,482.8 L1817.5,483.1 L1819.7,483.3 L1822.2,484.9 L1824.6,486.7 L1827,487.5 L1829.4,487.8 L1831.9,487.5 L1834.3,488.2 L1836.8,488.7 L1839.2,487.5 L1841.6,485.5 L1844.1,485.8 L1846.4,485.3 L1848.6,485.3 L1850.9,483.4 L1853.2,484.1 L1855.5,483.8 L1857.7,482.9 L1860,481.9 L1862.4,496.5 L1864.7,496.5 L1866.9,496.6 L1869.2,496.3 L1871.5,497.8 L1873.8,497.4 L1876,496.6 L1878.3,497.2 L1880.6,498 L1883,497.2 L1885.3,496.1 L1887.7,495.7 L1890,496 L1890,497.2 L1892.1,496.8 L1894.2,496.8 L1896.3,495.9 L1898.4,496 L1900.5,496 L1902.6,495.3 L1904.7,496.1 L1906.7,496.6 L1908.8,494.7 L1910.9,496 L1913,495.9 L1915.1,494.8 L1917.2,496.1 L1919.3,494.8 L1921.5,494.7 L1923.6,494.4 L1925.8,494.4 L1928,492.4 L1930.1,493.5 L1932.3,493 L1934.5,491 L1936.6,491 L1938.8,491.1 L1940.9,492.3 L1943,491.6 L1945.1,491.7 L1947.2,494 L1949.3,494.2 L1951.4,494.1 L1953.5,494.8 L1955.6,495.5 L1957.6,496.3 L1959.7,496.1 L1961.7,495 L1963.8,497.3 L1965.9,496 L1967.9,497 L1970,498.2 L1972.1,497.3 L1974.1,496.6 L1976.2,499 L1978.2,497.6 L1980.3,498.5 L1982.4,497.6 L1984.4,496.8 L1986.5,496.1 L1988.6,497.4 L1990.6,495.3 L1992.7,495.9 L1994.8,494.2 L1996.9,495.1 L1998.9,493.6 L2001,493.3 L2003.1,493.5 L2005.1,493.2 L2007.2,492.4 L2009.3,490.4 L2011.5,489.2 L2013.6,490.1 L2015.8,488.2 L2017.9,486.9 L2020,485.6 L2022.2,484.1 L2024.3,483.8 L2026.4,481.8 L2028.5,481.5 L2030.7,478.3 L2032.8,477.7 L2036.5,481.4 L2038.5,481 L2040.6,480 L2042.6,481.4 L2044.6,479.4 L2046.7,479.2 L2048.7,480.3 L2050.7,478.5 L2052.8,478 L2054.8,479 L2056.8,477.9 L2058.9,477.1 L2060.9,477.7 L2062.9,476.5 L2065,476.7 L2067,476.7 L2069,476.2 L2071.1,476.1 L2073.1,476.2 L2075.1,475.3 L2077.2,475.6 L2079.2,475.1 L2081.2,476.3 L2083.3,475.6 L2085.3,475.3 L2087.4,474.4 L2089.5,473.8 L2091.6,472.1 L2093.7,472.3 L2095.8,471.1 L2097.9,470.9 L2100,469.6 L2102.1,469.6 L2104.3,470.2 L2106.4,471 L2108.6,470 L2110.7,470.7 L2112.8,471.4 L2115,470.7 L2117.1,471.1 L2119.2,471.6 L2121.3,471.4 L2123.5,470.8 L2125.6,471.9 L2127.7,472.3 L2129.8,471.6 L2132,471.5 L2134.1,472.8 L2136.1,473.6 L2138.2,475.8 L2140.2,478.4 L2142.2,478.5 L2144.3,480.1 L2146.3,482.6 L2148.4,483.6 L2150.6,484.1 L2152.7,485.3 L2154.9,486.2 L2157,486.4 L2159.1,488.1 L2161.3,486.9 L2163.4,488.7 L2165.4,489.1 L2167.4,490 L2169.4,490.1 L2171.4,491.7 L2173.4,490.6 L2175.4,491.7 L2177.4,491.8 L2179.4,493.4 L2181.4,493.9 L2183.4,494.7 L2185.4,494.8 L2186.6,403.2 L2188.6,401.8 L2190.7,400.2 L2192.7,399.6 L2196.4,381.8 L2198.8,379.9 L2201.3,380.5 L2203.7,379.3 L2205.8,380.4 L2208,380.7 L2210.2,381.4 L2212.3,382.5 L2214.7,397.1 L2218.4,393 L2220.4,393.1 L2222.5,392.6 L2224.5,392.3 L2229.4,372 L2231.8,371 L2234.2,368.9 L2236.7,367.3 L2239.1,367.1 L2241.1,367.5 L2243.2,369.8 L2245.2,371.3 L2247.2,372.8 L2249.3,373 L2251.3,374.4 L2253.4,372.7 L2255.5,374.1 L2257.6,372.7 L2259.7,371.6 L2261.8,371.6 L2263.9,371.1 L2266,370.3 L2268,367.7 L2270.1,366.4 L2272.1,363 L2274.3,362.3 L2276.6,362.4 L2278.8,362.5 L2281,362.9 L2283.3,362.3 L2285.5,361.7 L2287.9,362.1 L2290.4,363.2 L2292.8,364.2 L2295.2,363.1 L2297.7,361.7 L2300.2,361 L2302.6,361.2 L2305.5,364.2 L2307.5,380 L2311.1,380 L2316,398.4 L2318.4,402.1 L2320.9,406 L2323.3,410.6 L2325.6,410.3 L2327.8,411.1 L2330.1,412.2 L2332.3,412.1 L2334.6,413.1 L2336.8,412.5 L2338.2,513.6 L2338.2,513.6 Z" fill="#FF8800"/>
<path d="M481.8,404.3 C481.8,342 1777.5,381.6 1777.5,443.9" fill="none" stroke="#FF8800" stroke-width="1.35"/>
<path d="M1274.3,469.5 C1274.3,407.2 2189,341.1 2189,403.4" fill="none" stroke="#FF8800" stroke-width="2.35"/>
<path d="M1862,479.8 C1862,417.5 2189,341.2 2189,403.5" fill="none" stroke="#FF8800" stroke-width="2.30"/>
<path d="M481.8,513.6 C481.8,575.9 2189,575.9 2189,513.6" fill="none" stroke="#FF8800" stroke-width="3.90"/>
<rect x="1100.2" y="343" width="60" height="69.7" fill="#fff"/>
<rect x="1096.8" y="339.7" width="66.7" height="76.4" fill="none" stroke="#fff" stroke-width="5.6"/>
<text x="1130.2" y="386.9" font-size="33.33" class="t6" text-anchor="middle">8</text>
<rect x="1692" y="355.4" width="80.3" height="69.7" fill="#fff"/>
<rect x="1688.7" y="352" width="87" height="76.4" fill="none" stroke="#fff" stroke-width="5.6"/>
<text x="1732.2" y="399.2" font-size="33.33" class="t6" text-anchor="middle">23</text>
<rect x="1985.8" y="360.6" width="80.3" height="69.7" fill="#fff"/>
<rect x="1982.5" y="357.2" width="87" height="76.4" fill="none" stroke="#fff" stroke-width="5.6"/>
<text x="2026" y="404.4" font-size="33.33" class="t6" text-anchor="middle">22</text>
<rect x="1295.8" y="526" width="80.3" height="69.7" fill="#fff"/>
<rect x="1292.4" y="522.6" width="87" height="76.4" fill="none" stroke="#fff" stroke-width="5.6"/>
<text x="1335.9" y="569.8" font-size="33.33" class="t6" text-anchor="middle">51</text>
<text transform="translate(2338.9,349) scale(1,1.022)" font-size="44.44" text-anchor="end" letter-spacing="0.042" style="fill:#FF8800;stroke:#FF8800">ADAM15 NUFIP2_K562_2016-9-29_KD/KO-1 IncLevel: 1.00</text>
<path d="M400,336 V513.6" stroke="#000" stroke-width="4.44" fill="none" stroke-linecap="square"/>
<path d="M380.6,336 H400" stroke="#000" stroke-width="4.44" fill="none"/>
<text x="361.2" y="353.1" font-size="44.44" text-anchor="end">38</text>
<path d="M380.6,380.4 H400" stroke="#000" stroke-width="4.44" fill="none"/>
<text x="361.2" y="397.5" font-size="44.44" text-anchor="end">28.5</text>
<path d="M380.6,424.8 H400" stroke="#000" stroke-width="4.44" fill="none"/>
<text x="361.2" y="441.9" font-size="44.44" text-anchor="end">19</text>
<path d="M380.6,469.2 H400" stroke="#000" stroke-width="4.44" fill="none"/>
<text x="361.2" y="486.3" font-size="44.44" text-anchor="end">9.5</text>
<path d="M380.6,513.6 H400" stroke="#000" stroke-width="4.44" fill="none"/>
<text transform="translate(231,415.8) rotate(-90)" font-size="44.44" text-anchor="middle">RPKM</text>
</g>
<g transform="translate(0,936)">
<path d="M400,513.6 L400,419.1 L402.7,419.1 L405.5,413.1 L408.3,408.6 L410.5,407.2 L412.8,405.6 L415,404.4 L417.2,403.7 L419.5,402.2 L421.7,401.3 L423.7,400.6 L425.8,401.4 L427.8,400.5 L429.8,399.4 L431.9,399.4 L433.9,398.4 L436.4,401.1 L438.8,403.7 L440.9,404.5 L443.1,405.7 L445.2,407 L447.4,408.6 L449.5,409.6 L451.6,411.2 L453.8,412.7 L455.9,413.5 L458.1,412.3 L460.3,412.9 L462.5,411.8 L464.7,411.9 L466.9,410.6 L470.6,416.7 L472.7,415.1 L474.9,415.2 L477,413.5 L479.1,413.5 L480.8,411.8 L482.3,507.7 L484.4,507.8 L486.6,508 L488.7,508 L490.8,507.8 L492.9,508.3 L495.1,508.7 L497.2,508.4 L499.3,508.5 L501.5,509 L503.6,508.7 L505.7,508.9 L507.8,509.2 L510,509.2 L512.1,509.2 L514.2,509.1 L516.2,509.2 L518.3,509.1 L520.3,509.4 L522.4,509.6 L524.5,509.3 L526.5,509.2 L528.6,509.7 L530.6,509.3 L532.7,509.4 L534.8,509.6 L536.8,509.5 L538.9,509.7 L540.9,509.9 L543,509.5 L545,509.7 L547.1,509.5 L549.2,509.9 L551.2,509.7 L553.3,509.9 L555.3,509.9 L557.4,509.9 L559.5,510 L561.5,509.7 L563.6,509.9 L565.6,510.1 L567.7,510.1 L569.8,510.1 L571.8,510.1 L573.9,510.2 L575.9,510 L578,510.2 L580.4,511.3 L582.9,512.5 L585.3,513.6 L587.4,513.6 L589.4,513.6 L591.5,513.6 L593.5,513.6 L595.6,513.6 L597.6,513.6 L599.7,513.6 L601.8,513.6 L603.8,513.6 L605.9,513.6 L607.9,513.6 L610,513.6 L612.1,513.6 L614.1,513.6 L616.2,513.6 L618.2,513.6 L620.3,513.6 L622.3,513.6 L624.4,513.6 L626.8,511.2 L628.9,511.1 L630.9,511.3 L633,511.1 L635,511.2 L637.1,511.2 L639.2,511.3 L641.2,511.2 L643.3,511.2 L645.3,511.3 L647.4,511.2 L649.5,511.2 L651.5,511.2 L653.6,511.1 L655.6,511.2 L657.7,511.2 L659.8,511.1 L661.8,511.3 L663.9,511.1 L665.9,511.3 L668,511.2 L670,511.2 L672.1,511.3 L674.2,511.3 L676.2,511.1 L678.3,511.3 L680.3,511.3 L682.4,511.1 L684.5,511.2 L686.5,511.2 L688.6,511.2 L690.6,511.1 L692.7,511.2 L695.2,509.4 L697.3,509.5 L699.4,509.2 L701.5,509.1 L703.7,509 L705.8,509.1 L707.9,508.7 L710,508.6 L712.1,508.7 L714.2,508.5 L716.3,508.2 L718.4,508.4 L720.6,508.5 L722.7,508.4 L724.8,507.8 L726.9,507.7 L729,508.1 L731.2,508.1 L733.3,507.7 L735.5,508.1 L737.6,507.5 L739.7,507.4 L741.9,507.9 L744,507.7 L746.4,510.2 L748.4,510.1 L750.4,510 L752.5,510 L754.5,510.2 L756.5,509.9 L758.5,510.1 L760.5,509.8 L762.6,510.1 L764.6,509.9 L766.6,510 L768.6,510.1 L770.6,510.1 L772.7,510 L774.7,509.9 L776.7,509.8 L778.7,509.8 L780.8,509.9 L782.8,509.5 L784.8,509.6 L786.8,509.6 L788.8,509.8 L790.9,509.6 L792.9,509.6 L794.9,509.3 L796.9,509.6 L798.9,509.6 L801,509.6 L803,509.6 L805,509.4 L807,509.5 L809.1,510 L811.1,509.9 L813.1,510.1 L815.2,510.4 L817.2,510.7 L819.7,510.3 L822.1,509.6 L824.6,509.4 L826.6,509.4 L828.7,509.2 L830.7,509.6 L832.8,509.5 L834.8,509.7 L836.9,509.3 L838.9,509.5 L841,509.5 L843,509.6 L845,509.5 L847.1,509.8 L849.1,509.9 L851.2,509.9 L853.2,509.9 L855.3,509.7 L857.3,510 L859.3,509.8 L861.4,509.7 L863.4,510 L865.5,509.9 L867.5,509.7 L869.6,509.7 L871.6,509.9 L873.6,509.8 L875.7,510.1 L877.7,509.9 L879.8,510.3 L881.8,510.1 L883.9,510.2 L885.9,510 L888,510.1 L890,510.2 L890,510.7 L892,510.5 L894.1,510.1 L896.1,509.9 L898.1,509.3 L900.2,509.1 L902.2,508.7 L904.2,508.9 L906.3,508.3 L908.3,508.3 L910.3,507.9 L912.4,507.5 L914.4,507 L916.4,507.1 L918.5,506.1 L920.5,505.5 L922.5,506 L924.6,505.1 L926.6,504.6 L928.7,504.2 L930.8,504.9 L933,505.6 L935.1,504.4 L937.2,504.9 L939.3,505.5 L941.4,505.7 L943.6,505.6 L945.7,505.1 L947.8,505.2 L949.9,505.3 L952,505.1 L954.2,505.4 L956.3,505.8 L958.4,505.8 L960.6,505 L962.7,505.6 L964.9,503.9 L967.1,504.3 L969.2,504.6 L971.4,503.3 L973.6,502.1 L975.7,503.3 L977.9,502.1 L979.9,501.1 L982,500.1 L984,499.7 L986,499.9 L988.1,498.5 L990.1,498.5 L992.2,498 L994.2,498.4 L996.3,498.5 L998.4,498.5 L1000.4,499.3 L1002.5,499.2 L1004.6,497.7 L1006.7,498.8 L1008.7,497.8 L1010.8,497.7 L1012.9,498 L1014.9,498.6 L1017,498.9 L1019.4,497.5 L1021.9,497.2 L1024.3,494.8 L1026.3,495.7 L1028.4,495.3 L1030.4,493.3 L1032.4,494.2 L1034.5,494.1 L1036.5,493.6 L1038.7,494.6 L1040.8,495.2 L1043,495.6 L1045.2,493.8 L1047.3,494.1 L1049.5,495.6 L1051.7,495.9 L1053.8,497.3 L1056,496.5 L1058.1,495.5 L1060.2,496.9 L1062.3,496.1 L1064.4,495.6 L1066.5,495.3 L1068.6,495.7 L1070.7,496.3 L1072.7,496.5 L1074.8,496.9 L1076.9,495.7 L1079,495.6 L1081.1,495.7 L1083.2,496.7 L1085.3,496 L1087.7,495.5 L1090.2,493.9 L1092.6,493.6 L1095,490.9 L1097.5,488.2 L1099.5,488 L1101.6,488.8 L1103.6,490.4 L1105.6,489.8 L1107.7,489.5 L1109.7,490.6 L1112.2,491.7 L1114.6,492.4 L1116.7,492.8 L1118.7,492.2 L1120.8,493.2 L1122.9,491.3 L1124.9,493.2 L1127,492 L1129.1,493 L1131.2,491.7 L1133.2,492 L1135.3,492.7 L1137.4,493.1 L1139.4,492.3 L1141.5,492.4 L1145.1,497.2 L1147.2,498.3 L1149.4,498 L1151.5,498.7 L1153.7,498.9 L1155.8,498.9 L1157.9,499.8 L1160,498.9 L1162.1,499.7 L1164.2,499.1 L1166.3,499.4 L1168.3,498.2 L1170.4,497.9 L1172.5,498.1 L1174.6,499.8 L1176.7,498.6 L1178.8,499.4 L1180.9,498.2 L1183,498.9 L1184.9,478.9 L1189.1,450.1 L1191.2,450.1 L1193.2,449.9 L1195.3,449.7 L1197.4,450.3 L1199.4,449 L1201.5,449.6 L1203.6,449.3 L1205.7,450 L1207.7,451.2 L1209.8,450.1 L1212.2,452.9 L1214.7,457 L1220.8,475.3 L1223,477 L1225.2,476.9 L1227.4,478.2 L1229.6,477.5 L1231.8,479.4 L1234,478.2 L1236.1,479.5 L1238.3,478.5 L1240.5,478.8 L1242.6,478.8 L1244.8,477.2 L1247,478 L1249.1,478.4 L1251.3,477 L1253.3,475.9 L1255.4,475 L1257.4,476.3 L1259.5,476.2 L1261.5,473.8 L1263.6,473.4 L1265.6,474 L1267.7,473.6 L1269.7,472.1 L1271.8,472.9 L1273.8,472.1 L1275.3,508.2 L1277.4,508 L1279.5,508.1 L1281.7,508.4 L1283.8,508.2 L1285.9,508.4 L1288,508.1 L1290.2,507.9 L1292.3,507.7 L1294.4,508.3 L1296.5,508 L1298.6,508.2 L1300.8,507.4 L1302.9,507.9 L1305,507.7 L1307,508.1 L1309.1,507.4 L1311.1,507 L1313.2,507.5 L1315.2,507 L1317.2,507.1 L1319.3,507.1 L1321.3,507.2 L1323.3,507.5 L1325.4,507.4 L1327.4,507.3 L1329.5,506.8 L1331.5,507.2 L1333.5,507 L1335.6,507.3 L1337.6,507 L1339.6,506.5 L1341.7,506.1 L1343.7,506.8 L1345.8,506.7 L1347.8,506.2 L1349.8,505.9 L1351.9,505.9 L1353.9,506.3 L1355.9,506.4 L1357.9,505.7 L1359.9,506 L1361.9,506.6 L1363.9,506.1 L1365.9,505.3 L1367.9,506.4 L1369.9,506.5 L1372,506.3 L1374,505.1 L1376,505.7 L1378,506.2 L1380,505 L1382,505.8 L1384,505.2 L1386,505.1 L1388,505.1 L1390,505.3 L1390,505.3 L1392,505.6 L1394.1,504.6 L1396.1,505.2 L1398.1,504.1 L1400.2,504.7 L1402.2,504.4 L1404.2,503.3 L1406.3,503.5 L1408.3,503.8 L1410.3,503.2 L1412.4,503.2 L1414.4,503.3 L1416.9,500.9 L1419,500.5 L1421.2,500.9 L1423.3,501.9 L1425.4,500.6 L1427.5,500.8 L1429.7,500.6 L1431.8,500.1 L1433.9,500.9 L1436,499.9 L1438.1,499.5 L1440.2,498.4 L1442.3,497.2 L1444.4,498.4 L1446.5,496.2 L1448.6,496 L1450.7,493.2 L1452.8,491.3 L1454.9,489 L1456.9,488.4 L1459,484.8 L1461.1,484.2 L1463.2,481.4 L1465.3,481.5 L1467.4,481.1 L1469.5,481 L1471.6,481.5 L1473.7,480.3 L1475.8,480.3 L1477.8,479.9 L1479.9,479.4 L1482,480.4 L1484.1,478.8 L1486.2,480.1 L1488.3,477.8 L1490.4,478.1 L1492.5,478.4 L1494.5,479.2 L1496.6,477.2 L1498.6,477.4 L1500.7,478.5 L1502.7,478.3 L1504.8,478.3 L1506.8,478.3 L1508.8,477 L1510.9,476.9 L1512.9,477.4 L1515,476.6 L1517,476.5 L1519.1,476.3 L1521.2,476.3 L1523.3,475.2 L1525.3,475.2 L1527.4,475.6 L1529.5,475 L1531.6,474.9 L1533.7,475 L1535.8,476.3 L1537.9,476 L1539.9,475.5 L1542,476.1 L1544.1,474.8 L1546.2,475.3 L1548.3,475.9 L1550.5,473.9 L1552.6,475 L1554.8,472.6 L1556.9,473.6 L1559,472.4 L1561.2,473 L1563.3,472.1 L1565.8,472.3 L1568.2,473.2 L1570.7,475.3 L1573.1,476.4 L1575.6,478.6 L1578,481.7 L1580.4,483.8 L1582.9,484 L1585.3,486.5 L1587.8,487.5 L1589.9,486.8 L1592,487.2 L1594.2,486.9 L1596.3,485.8 L1598.4,487.1 L1600.5,486.6 L1602.7,486.4 L1604.8,485.8 L1606.8,486.2 L1608.9,487.8 L1610.9,488 L1613,488.4 L1615,489.1 L1617.1,488.7 L1619.5,488.9 L1621.9,486.5 L1624.4,485.9 L1626.8,486.2 L1628.9,485.7 L1631,483.5 L1633.1,482.5 L1635.2,480.8 L1637.3,481 L1639.4,480 L1641.5,477.7 L1643.6,477.9 L1645.8,477.9 L1647.9,476.8 L1650,477.6 L1652.2,478 L1654.3,476.5 L1656.5,477 L1658.6,476.5 L1661,477.9 L1663.5,478.5 L1665.9,478.9 L1668.3,478.9 L1670.8,478.9 L1673.2,478.7 L1675.6,477.7 L1679.3,469.6 L1681.5,469.8 L1683.6,469.5 L1685.8,469.6 L1687.9,468.7 L1690.3,464.3 L1692.3,463.6 L1694.4,464.3 L1696.4,462.6 L1698.4,462.9 L1700.5,462.9 L1702.5,463.1 L1704.6,463.8 L1706.7,463.9 L1708.7,463.1 L1710.8,464.1 L1712.9,463 L1715,463.3 L1717,465.3 L1719.1,464.9 L1721.2,465 L1723.2,464.1 L1725.3,464.6 L1727.4,464.4 L1729.5,465.3 L1731.5,466.6 L1733.6,466.7 L1735.7,465.2 L1737.8,466.2 L1739.8,466.1 L1741.9,466.6 L1744,466.7 L1746.5,468.3 L1748.9,469.2 L1751,470.1 L1753.1,473.4 L1755.2,473.9 L1757.2,476.7 L1759.3,478.7 L1761.4,479.4 L1763.5,481.4 L1765.7,482 L1767.9,482.1 L1770.1,482.1 L1772.3,482.2 L1774.5,483.3 L1775.7,472.8 L1777.7,472 L1779.8,472.8 L1781.8,473.8 L1783.9,473.5 L1785.9,472.5 L1788,473.1 L1790,473 L1792.1,473.9 L1794.1,474 L1797.7,477.7 L1800.2,488.2 L1802.6,489.5 L1805.1,488.5 L1807.5,489.2 L1811.1,498.5 L1813.2,497.7 L1815.4,498.8 L1817.5,498.6 L1819.7,498.9 L1822.2,499.4 L1824.6,500.9 L1826.7,502 L1828.9,501.8 L1831,501.3 L1833.2,501.8 L1835.3,502.8 L1837.4,503.5 L1839.6,503.8 L1841.7,503.8 L1843.7,502.8 L1845.8,504 L1847.8,504.4 L1849.8,503.6 L1851.9,503.7 L1853.9,503.6 L1855.9,503.4 L1858,503.3 L1860,502.9 L1862.4,508.7 L1864.5,508.9 L1866.6,508.4 L1868.8,508.8 L1870.9,508.8 L1873,508.6 L1875.1,508.6 L1877.3,508.3 L1879.4,508.1 L1881.5,508.2 L1883.6,508.7 L1885.8,507.9 L1887.9,508.4 L1890,508.2 L1890,508.2 L1892,508.1 L1894.1,508.5 L1896.1,508.5 L1898.1,507.7 L1900.2,508.4 L1902.2,508.3 L1904.2,507.5 L1906.3,507.8 L1908.3,508.1 L1910.3,507.5 L1912.4,507.5 L1914.4,507.7 L1916.8,508.7 L1919.3,508.9 L1921.7,509.7 L1923.7,509.5 L1925.7,509.2 L1927.7,509.1 L1929.7,509 L1931.7,508.5 L1933.7,508.3 L1935.7,508.2 L1937.7,507.9 L1939.7,508.1 L1941.7,507.9 L1943.7,507.7 L1945.8,507.3 L1948,505.8 L1950.1,505.8 L1952.2,505.6 L1954.4,503.7 L1956.5,503.5 L1958.7,502.9 L1960.8,502.1 L1962.9,501.8 L1964.9,500.8 L1967,501.4 L1969.1,500.7 L1971.1,501.5 L1973.2,500.8 L1975.3,500.5 L1977.4,500.5 L1979.4,500 L1981.5,499.9 L1983.6,499.6 L1985.6,500 L1987.7,500.4 L1989.7,499.9 L1991.8,499 L1993.8,499.8 L1995.8,500.5 L1997.9,498.9 L1999.9,499 L2001.9,498.8 L2004,499.1 L2006,498.7 L2008,498.9 L2010.1,497.8 L2012.1,498 L2014.1,497.4 L2016.2,498.1 L2018.2,497.8 L2020.2,496.3 L2022.3,496.3 L2024.3,495.5 L2026.8,492.4 L2029.2,489.9 L2031.6,492.4 L2034,493.1 L2036.1,493.7 L2038.1,491.8 L2040.2,492.6 L2042.3,492.5 L2044.3,491 L2046.4,491.2 L2048.5,491.6 L2050.6,491.1 L2052.6,492.1 L2054.7,491 L2056.8,491.4 L2058.8,489.8 L2060.9,490.6 L2063.1,489.7 L2065.2,491 L2067.4,489.7 L2069.6,490.9 L2071.7,489.1 L2073.9,490.6 L2076.1,490.4 L2078.2,490.4 L2080.4,489.2 L2082.4,490 L2084.5,489 L2086.5,490.1 L2088.5,489.5 L2090.6,490.6 L2092.6,489.9 L2095.1,487 L2097.5,485 L2099.5,485.3 L2101.6,485.9 L2103.6,484.5 L2105.6,484.4 L2107.7,485 L2109.7,484.1 L2111.7,484.7 L2113.8,483.8 L2115.8,485.2 L2117.8,484.1 L2119.9,485.2 L2121.9,484.3 L2124.4,484.3 L2126.8,483.7 L2129.3,481.9 L2131.7,483.8 L2134.1,483.8 L2136.6,484.9 L2139,485.5 L2141.4,485.2 L2143.9,485.8 L2146.4,488.1 L2148.8,489.9 L2150.8,489.4 L2152.9,490.4 L2154.9,489 L2156.9,489.7 L2159,489.6 L2161,488.7 L2163.4,486.2 L2165.9,484.3 L2168.1,484.5 L2170.2,485.9 L2172.4,484.1 L2174.6,484.9 L2176.7,485.5 L2178.9,484.8 L2181.1,485.1 L2183.2,486.3 L2185.4,486.7 L2186.6,392.3 L2188.6,390.9 L2190.7,391.5 L2192.7,389.8 L2196.4,372.7 L2198.8,371.6 L2201.3,371 L2203.8,372 L2206.2,370.3 L2208.4,373.3 L2210.6,373.2 L2212.7,375.1 L2214.9,377.6 L2217.1,380 L2219.2,379.6 L2221.4,378 L2223.5,375.7 L2225.7,375.2 L2228.1,369 L2230.6,363 L2234.2,373.5 L2236.7,375.1 L2239.1,375.4 L2241.6,375.2 L2244,378.7 L2246.5,383 L2248.9,386.2 L2251,386.2 L2253.1,386 L2255.2,384.8 L2257.2,384.7 L2259.3,383.3 L2261.4,383.3 L2263.5,382.5 L2265.7,381.1 L2267.8,380 L2269.9,380.2 L2272.1,378.3 L2274.3,379.3 L2276.6,382.1 L2278.8,382.6 L2281,385.7 L2283.3,386.6 L2285.5,388.6 L2287.6,389.8 L2289.8,389.5 L2291.9,390.5 L2294.1,392.4 L2296.2,393.2 L2298.3,393.8 L2300.5,394.1 L2302.6,395.4 L2305.1,399.5 L2307.5,404.5 L2309.5,405 L2311.6,405.6 L2313.6,407.6 L2317.2,428.9 L2319.6,430.4 L2322.1,431.1 L2324.6,430.2 L2327,432.1 L2329.4,432.3 L2331.9,433.2 L2334.4,433.1 L2336.8,432.5 L2338.2,513.6 L2338.2,513.6 Z" fill="#FF8800"/>
<path d="M481.8,412.3 C481.8,350.8 1777.5,409.7 1777.5,471.2" fill="none" stroke="#FF8800" stroke-width="0.70"/>
<path d="M1274.3,472.6 C1274.3,411.1 2189,330.4 2189,391.9" fill="none" stroke="#FF8800" stroke-width="2.90"/>
<path d="M1862,501 C1862,439.5 2189,329 2189,390.5" fill="none" stroke="#FF8800" stroke-width="1.50"/>
<path d="M481.8,513.6 C481.8,575.1 2189,575.1 2189,513.6" fill="none" stroke="#FF8800" stroke-width="4.10"/>
<rect x="1100.2" y="361.3" width="60" height="69.7" fill="#fff"/>
<rect x="1096.8" y="357.9" width="66.7" height="76.4" fill="none" stroke="#fff" stroke-width="5.6"/>
<text x="1130.2" y="405.1" font-size="33.33" class="t6" text-anchor="middle">2</text>
<rect x="1692" y="351.8" width="80.3" height="69.7" fill="#fff"/>
<rect x="1688.7" y="348.4" width="87" height="76.4" fill="none" stroke="#fff" stroke-width="5.6"/>
<text x="1732.2" y="395.6" font-size="33.33" class="t6" text-anchor="middle">36</text>
<rect x="1985.8" y="365.3" width="80.3" height="69.7" fill="#fff"/>
<rect x="1982.5" y="361.9" width="87" height="76.4" fill="none" stroke="#fff" stroke-width="5.6"/>
<text x="2026" y="409.1" font-size="33.33" class="t6" text-anchor="middle">10</text>
<rect x="1295.8" y="525.4" width="80.3" height="69.7" fill="#fff"/>
<rect x="1292.4" y="522" width="87" height="76.4" fill="none" stroke="#fff" stroke-width="5.6"/>
<text x="1335.9" y="569.2" font-size="33.33" class="t6" text-anchor="middle">71</text>
<text transform="translate(2338.9,349) scale(1,1.022)" font-size="44.44" text-anchor="end" letter-spacing="0.042" style="fill:#FF8800;stroke:#FF8800">ADAM15 NUFIP2_K562_2016-9-29_KD/KO-2 IncLevel: 1.00</text>
<path d="M400,336 V513.6" stroke="#000" stroke-width="4.44" fill="none" stroke-linecap="square"/>
<path d="M380.6,336 H400" stroke="#000" stroke-width="4.44" fill="none"/>
<text x="361.2" y="353.1" font-size="44.44" text-anchor="end">38</text>
<path d="M380.6,380.4 H400" stroke="#000" stroke-width="4.44" fill="none"/>
<text x="361.2" y="397.5" font-size="44.44" text-anchor="end">28.5</text>
<path d="M380.6,424.8 H400" stroke="#000" stroke-width="4.44" fill="none"/>
<text x="361.2" y="441.9" font-size="44.44" text-anchor="end">19</text>
<path d="M380.6,469.2 H400" stroke="#000" stroke-width="4.44" fill="none"/>
<text x="361.2" y="486.3" font-size="44.44" text-anchor="end">9.5</text>
<path d="M380.6,513.6 H400" stroke="#000" stroke-width="4.44" fill="none"/>
<text transform="translate(231,415.8) rotate(-90)" font-size="44.44" text-anchor="middle">RPKM</text>
</g>
<path d="M400,1555.6 H2338.8" stroke="#000" stroke-width="4.44" fill="none" stroke-linecap="square"/>
<path d="M400,1555.6 V1575.6" stroke="#000" stroke-width="4.44" fill="none"/>
<text x="400" y="1620" font-size="35.56" class="t6" text-anchor="middle">155033239</text>
<path d="M787.8,1555.6 V1575.6" stroke="#000" stroke-width="4.44" fill="none"/>
<text x="787.8" y="1620" font-size="35.56" class="t6" text-anchor="middle">155033560</text>
<path d="M1175.5,1555.6 V1575.6" stroke="#000" stroke-width="4.44" fill="none"/>
<text x="1175.5" y="1620" font-size="35.56" class="t6" text-anchor="middle">155033881</text>
<path d="M1563.3,1555.6 V1575.6" stroke="#000" stroke-width="4.44" fill="none"/>
<text x="1563.3" y="1620" font-size="35.56" class="t6" text-anchor="middle">155034202</text>
<path d="M1951,1555.6 V1575.6" stroke="#000" stroke-width="4.44" fill="none"/>
<text x="1951" y="1620" font-size="35.56" class="t6" text-anchor="middle">155034523</text>
<path d="M2338.8,1555.6 V1575.6" stroke="#000" stroke-width="4.44" fill="none"/>
<text x="2338.8" y="1620" font-size="35.56" class="t6" text-anchor="middle">155034844</text>
<text x="1369" y="1682.8" font-size="44.44" text-anchor="middle">Genomic coordinate (chr1), &quot;+&quot; strand</text>
<path d="M400,2194 H2340" stroke="#000" stroke-width="2.78" fill="none"/>
<path d="M431,2182 L438.8,2194 L431,2206 M469.8,2182 L477.6,2194 L469.8,2206 M508.6,2182 L516.3,2194 L508.6,2206 M547.3,2182 L555.1,2194 L547.3,2206 M586.1,2182 L593.9,2194 L586.1,2206 M624.9,2182 L632.7,2194 L624.9,2206 M663.7,2182 L671.4,2194 L663.7,2206 M702.5,2182 L710.2,2194 L702.5,2206 M741.2,2182 L749,2194 L741.2,2206 M780,2182 L787.8,2194 L780,2206 M818.8,2182 L826.5,2194 L818.8,2206 M857.6,2182 L865.3,2194 L857.6,2206 M896.3,2182 L904.1,2194 L896.3,2206 M935.1,2182 L942.9,2194 L935.1,2206 M973.9,2182 L981.6,2194 L973.9,2206 M1012.7,2182 L1020.4,2194 L1012.7,2206 M1051.4,2182 L1059.2,2194 L1051.4,2206 M1090.2,2182 L1098,2194 L1090.2,2206 M1129,2182 L1136.7,2194 L1129,2206 M1167.8,2182 L1175.5,2194 L1167.8,2206 M1206.5,2182 L1214.3,2194 L1206.5,2206 M1245.3,2182 L1253.1,2194 L1245.3,2206 M1284.1,2182 L1291.8,2194 L1284.1,2206 M1322.9,2182 L1330.6,2194 L1322.9,2206 M1361.6,2182 L1369.4,2194 L1361.6,2206 M1400.4,2182 L1408.2,2194 L1400.4,2206 M1439.2,2182 L1447,2194 L1439.2,2206 M1478,2182 L1485.7,2194 L1478,2206 M1516.7,2182 L1524.5,2194 L1516.7,2206 M1555.5,2182 L1563.3,2194 L1555.5,2206 M1594.3,2182 L1602.1,2194 L1594.3,2206 M1633.1,2182 L1640.8,2194 L1633.1,2206 M1671.9,2182 L1679.6,2194 L1671.9,2206 M1710.6,2182 L1718.4,2194 L1710.6,2206 M1749.4,2182 L1757.2,2194 L1749.4,2206 M1788.2,2182 L1795.9,2194 L1788.2,2206 M1827,2182 L1834.7,2194 L1827,2206 M1865.7,2182 L1873.5,2194 L1865.7,2206 M1904.5,2182 L1912.3,2194 L1904.5,2206 M1943.3,2182 L1951,2194 L1943.3,2206 M1982.1,2182 L1989.8,2194 L1982.1,2206 M2020.8,2182 L2028.6,2194 L2020.8,2206 M2059.6,2182 L2067.4,2194 L2059.6,2206 M2098.4,2182 L2106.1,2194 L2098.4,2206 M2137.2,2182 L2144.9,2194 L2137.2,2206 M2175.9,2182 L2183.7,2194 L2175.9,2206 M2214.7,2182 L2222.5,2194 L2214.7,2206 M2253.5,2182 L2261.2,2194 L2253.5,2206 M2292.3,2182 L2300,2194 L2292.3,2206" stroke="#000" stroke-width="2.78" fill="none" stroke-linecap="square" stroke-linejoin="miter"/>
<rect x="399.5" y="2163.7" width="84.1" height="60.6" fill="#000"/>
<rect x="1233" y="2163.7" width="44.2" height="60.6" fill="#000"/>
<rect x="2189.7" y="2163.7" width="149.8" height="60.6" fill="#000"/>
<path d="M400,2392.5 H2340" stroke="#000" stroke-width="2.78" fill="none"/>
<path d="M431,2380.5 L438.8,2392.5 L431,2404.5 M469.8,2380.5 L477.6,2392.5 L469.8,2404.5 M508.6,2380.5 L516.3,2392.5 L508.6,2404.5 M547.3,2380.5 L555.1,2392.5 L547.3,2404.5 M586.1,2380.5 L593.9,2392.5 L586.1,2404.5 M624.9,2380.5 L632.7,2392.5 L624.9,2404.5 M663.7,2380.5 L671.4,2392.5 L663.7,2404.5 M702.5,2380.5 L710.2,2392.5 L702.5,2404.5 M741.2,2380.5 L749,2392.5 L741.2,2404.5 M780,2380.5 L787.8,2392.5 L780,2404.5 M818.8,2380.5 L826.5,2392.5 L818.8,2404.5 M857.6,2380.5 L865.3,2392.5 L857.6,2404.5 M896.3,2380.5 L904.1,2392.5 L896.3,2404.5 M935.1,2380.5 L942.9,2392.5 L935.1,2404.5 M973.9,2380.5 L981.6,2392.5 L973.9,2404.5 M1012.7,2380.5 L1020.4,2392.5 L1012.7,2404.5 M1051.4,2380.5 L1059.2,2392.5 L1051.4,2404.5 M1090.2,2380.5 L1098,2392.5 L1090.2,2404.5 M1129,2380.5 L1136.7,2392.5 L1129,2404.5 M1167.8,2380.5 L1175.5,2392.5 L1167.8,2404.5 M1206.5,2380.5 L1214.3,2392.5 L1206.5,2404.5 M1245.3,2380.5 L1253.1,2392.5 L1245.3,2404.5 M1284.1,2380.5 L1291.8,2392.5 L1284.1,2404.5 M1322.9,2380.5 L1330.6,2392.5 L1322.9,2404.5 M1361.6,2380.5 L1369.4,2392.5 L1361.6,2404.5 M1400.4,2380.5 L1408.2,2392.5 L1400.4,2404.5 M1439.2,2380.5 L1447,2392.5 L1439.2,2404.5 M1478,2380.5 L1485.7,2392.5 L1478,2404.5 M1516.7,2380.5 L1524.5,2392.5 L1516.7,2404.5 M1555.5,2380.5 L1563.3,2392.5 L1555.5,2404.5 M1594.3,2380.5 L1602.1,2392.5 L1594.3,2404.5 M1633.1,2380.5 L1640.8,2392.5 L1633.1,2404.5 M1671.9,2380.5 L1679.6,2392.5 L1671.9,2404.5 M1710.6,2380.5 L1718.4,2392.5 L1710.6,2404.5 M1749.4,2380.5 L1757.2,2392.5 L1749.4,2404.5 M1788.2,2380.5 L1795.9,2392.5 L1788.2,2404.5 M1827,2380.5 L1834.7,2392.5 L1827,2404.5 M1865.7,2380.5 L1873.5,2392.5 L1865.7,2404.5 M1904.5,2380.5 L1912.3,2392.5 L1904.5,2404.5 M1943.3,2380.5 L1951,2392.5 L1943.3,2404.5 M1982.1,2380.5 L1989.8,2392.5 L1982.1,2404.5 M2020.8,2380.5 L2028.6,2392.5 L2020.8,2404.5 M2059.6,2380.5 L2067.4,2392.5 L2059.6,2404.5 M2098.4,2380.5 L2106.1,2392.5 L2098.4,2404.5 M2137.2,2380.5 L2144.9,2392.5 L2137.2,2404.5 M2175.9,2380.5 L2183.7,2392.5 L2175.9,2404.5 M2214.7,2380.5 L2222.5,2392.5 L2214.7,2404.5 M2253.5,2380.5 L2261.2,2392.5 L2253.5,2404.5 M2292.3,2380.5 L2300,2392.5 L2292.3,2404.5" stroke="#000" stroke-width="2.78" fill="none" stroke-linecap="square" stroke-linejoin="miter"/>
<rect x="399.5" y="2362.2" width="84.1" height="60.6" fill="#000"/>
<rect x="1777.8" y="2362.2" width="86.5" height="60.6" fill="#000"/>
<rect x="2189.7" y="2362.2" width="149.8" height="60.6" fill="#000"/>
</svg></body></html>
